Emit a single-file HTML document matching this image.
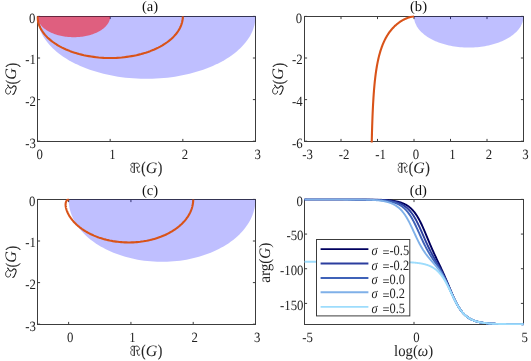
<!DOCTYPE html>
<html><head><meta charset="utf-8"><title>figure</title>
<style>
html,body{margin:0;padding:0;background:#fff;}
body{width:531px;height:361px;overflow:hidden;font-family:"Liberation Serif",serif;}
svg{display:block;will-change:transform;}
text{text-rendering:geometricPrecision;font-family:"Liberation Serif",serif;fill:#222;}
.tk{font-size:14.2px;}
.tt{font-size:14.6px;fill:#111;}
.lb{font-size:16px;}
.pr{font-size:16.3px;}
.gi{font-size:16px;font-style:italic;}
.lg{font-size:14.2px;}
</style></head><body>
<svg width="531" height="361" viewBox="0 0 531 361">
<rect width="531" height="361" fill="#fff"/>
<clipPath id="c2"><rect x="36.5" y="15.5" width="220" height="127"/></clipPath>
<rect x="37.5" y="16.5" width="218" height="125" fill="none" stroke="#3c3c3c" stroke-width="1"/>
<path d="M37.5,141.5 v-2.6 M37.5,16.5 v2.6" stroke="#3c3c3c" stroke-width="1" fill="none"/>
<text transform="translate(39.7,159.4) scale(0.9,1)" text-anchor="middle" class="tk">0</text>
<path d="M110.17,141.5 v-2.6 M110.17,16.5 v2.6" stroke="#3c3c3c" stroke-width="1" fill="none"/>
<text transform="translate(112.37,159.4) scale(0.9,1)" text-anchor="middle" class="tk">1</text>
<path d="M182.83,141.5 v-2.6 M182.83,16.5 v2.6" stroke="#3c3c3c" stroke-width="1" fill="none"/>
<text transform="translate(185.03,159.4) scale(0.9,1)" text-anchor="middle" class="tk">2</text>
<path d="M255.5,141.5 v-2.6 M255.5,16.5 v2.6" stroke="#3c3c3c" stroke-width="1" fill="none"/>
<text transform="translate(257.7,159.4) scale(0.9,1)" text-anchor="middle" class="tk">3</text>
<path d="M37.5,16.4 h2.6 M255.5,16.4 h-2.6" stroke="#3c3c3c" stroke-width="1" fill="none"/>
<text transform="translate(35.4,22.5) scale(0.9,1)" text-anchor="end" class="tk">0</text>
<path d="M37.5,58 h2.6 M255.5,58 h-2.6" stroke="#3c3c3c" stroke-width="1" fill="none"/>
<text transform="translate(36,64.4) scale(0.9,1)" text-anchor="end" class="tk">-1</text>
<path d="M37.5,99.6 h2.6 M255.5,99.6 h-2.6" stroke="#3c3c3c" stroke-width="1" fill="none"/>
<text transform="translate(36,106) scale(0.9,1)" text-anchor="end" class="tk">-2</text>
<path d="M37.5,141.2 h2.6 M255.5,141.2 h-2.6" stroke="#3c3c3c" stroke-width="1" fill="none"/>
<text transform="translate(36,147.6) scale(0.9,1)" text-anchor="end" class="tk">-3</text>
<g clip-path="url(#c2)">
<path d="M255.5,16.4 L255.43,18.6 L255.23,20.8 L254.89,23 L254.42,25.18 L253.81,27.36 L253.06,29.52 L252.19,31.66 L251.18,33.79 L250.05,35.89 L248.78,37.97 L247.39,40.02 L245.87,42.05 L244.22,44.04 L242.46,46 L240.57,47.92 L238.57,49.8 L236.46,51.64 L234.23,53.43 L231.89,55.18 L229.45,56.88 L226.9,58.53 L224.25,60.13 L221.51,61.68 L218.67,63.16 L215.74,64.59 L212.73,65.96 L209.63,67.27 L206.46,68.51 L203.21,69.69 L199.89,70.8 L196.5,71.85 L193.05,72.82 L189.54,73.73 L185.98,74.56 L182.37,75.32 L178.72,76.01 L175.02,76.63 L171.29,77.16 L167.53,77.63 L163.74,78.01 L159.93,78.32 L156.11,78.56 L152.27,78.71 L148.42,78.79 L144.58,78.79 L140.73,78.71 L136.89,78.56 L133.07,78.32 L129.26,78.01 L125.47,77.63 L121.71,77.16 L117.98,76.63 L114.28,76.01 L110.63,75.32 L107.02,74.56 L103.46,73.73 L99.95,72.82 L96.5,71.85 L93.11,70.8 L89.79,69.69 L86.54,68.51 L83.37,67.27 L80.27,65.96 L77.26,64.59 L74.33,63.16 L71.49,61.68 L68.75,60.13 L66.1,58.53 L63.55,56.88 L61.11,55.18 L58.77,53.43 L56.54,51.64 L54.43,49.8 L52.43,47.92 L50.54,46 L48.78,44.04 L47.13,42.05 L45.61,40.02 L44.22,37.97 L42.95,35.89 L41.82,33.79 L40.81,31.66 L39.94,29.52 L39.19,27.36 L38.58,25.18 L38.11,23 L37.77,20.8 L37.57,18.6 L37.5,16.4 Z" fill="rgba(0,0,255,0.25)"/>
<path d="M110.17,16.4 L110.14,17.13 L110.08,17.87 L109.96,18.6 L109.81,19.33 L109.6,20.05 L109.35,20.77 L109.06,21.49 L108.73,22.2 L108.35,22.9 L107.93,23.59 L107.46,24.27 L106.96,24.95 L106.41,25.61 L105.82,26.27 L105.19,26.91 L104.52,27.53 L103.82,28.15 L103.08,28.74 L102.3,29.33 L101.48,29.89 L100.63,30.44 L99.75,30.98 L98.84,31.49 L97.89,31.99 L96.91,32.46 L95.91,32.92 L94.88,33.36 L93.82,33.77 L92.74,34.16 L91.63,34.53 L90.5,34.88 L89.35,35.21 L88.18,35.51 L86.99,35.79 L85.79,36.04 L84.57,36.27 L83.34,36.48 L82.1,36.65 L80.84,36.81 L79.58,36.94 L78.31,37.04 L77.04,37.12 L75.76,37.17 L74.47,37.2 L73.19,37.2 L71.91,37.17 L70.63,37.12 L69.36,37.04 L68.09,36.94 L66.82,36.81 L65.57,36.65 L64.33,36.48 L63.09,36.27 L61.88,36.04 L60.67,35.79 L59.49,35.51 L58.32,35.21 L57.17,34.88 L56.04,34.53 L54.93,34.16 L53.85,33.77 L52.79,33.36 L51.76,32.92 L50.75,32.46 L49.78,31.99 L48.83,31.49 L47.92,30.98 L47.03,30.44 L46.18,29.89 L45.37,29.33 L44.59,28.74 L43.85,28.15 L43.14,27.53 L42.48,26.91 L41.85,26.27 L41.26,25.61 L40.71,24.95 L40.2,24.27 L39.74,23.59 L39.32,22.9 L38.94,22.2 L38.6,21.49 L38.31,20.77 L38.06,20.05 L37.86,19.33 L37.7,18.6 L37.59,17.87 L37.52,17.13 L37.5,16.4 Z" fill="rgba(255,0,0,0.5)"/>
<path d="M182.83,16.4 L182.79,17.87 L182.65,19.33 L182.43,20.8 L182.11,22.25 L181.7,23.7 L181.21,25.14 L180.63,26.57 L179.96,27.99 L179.2,29.39 L178.35,30.78 L177.42,32.15 L176.41,33.5 L175.32,34.83 L174.14,36.13 L172.88,37.41 L171.55,38.67 L170.14,39.89 L168.65,41.09 L167.09,42.26 L165.46,43.39 L163.77,44.49 L162,45.55 L160.17,46.58 L158.28,47.58 L156.33,48.53 L154.32,49.44 L152.25,50.31 L150.14,51.14 L147.97,51.93 L145.76,52.67 L143.5,53.37 L141.2,54.02 L138.86,54.62 L136.49,55.18 L134.08,55.68 L131.64,56.14 L129.18,56.55 L126.69,56.91 L124.19,57.22 L121.66,57.48 L119.12,57.68 L116.57,57.84 L114.01,57.94 L111.45,57.99 L108.88,57.99 L106.32,57.94 L103.76,57.84 L101.21,57.68 L98.67,57.48 L96.15,57.22 L93.64,56.91 L91.15,56.55 L88.69,56.14 L86.25,55.68 L83.85,55.18 L81.47,54.62 L79.13,54.02 L76.83,53.37 L74.58,52.67 L72.36,51.93 L70.2,51.14 L68.08,50.31 L66.01,49.44 L64.01,48.53 L62.05,47.58 L60.16,46.58 L58.33,45.55 L56.57,44.49 L54.87,43.39 L53.24,42.26 L51.68,41.09 L50.2,39.89 L48.78,38.67 L47.45,37.41 L46.19,36.13 L45.02,34.83 L43.92,33.5 L42.91,32.15 L41.98,30.78 L41.14,29.39 L40.38,27.99 L39.71,26.57 L39.12,25.14 L38.63,23.7 L38.22,22.25 L37.91,20.8 L37.68,19.33 L37.55,17.87 L37.5,16.4" fill="none" stroke="#d95319" stroke-width="2.1" stroke-linecap="butt" stroke-linejoin="round"/>
</g>
<text x="150" y="11.3" text-anchor="middle" class="tt">(a)</text>
<g transform="translate(146.5,172.8)"><path d="M3.9,-10.1 L4.0,-0.5" transform="translate(-15.9,0) scale(0.93,0.94)" fill="none" stroke="#222" stroke-width="1.25" stroke-linecap="round" stroke-linejoin="round"/><path d="M1.9,-10.2 C0.9,-10 0.3,-9.6 0.3,-8.9 C0.3,-8 0.4,-7.6 0.55,-7.2 C0.9,-6.6 1.6,-6.4 2.2,-6.4" transform="translate(-15.9,0) scale(0.93,0.94)" fill="none" stroke="#222" stroke-width="0.75" stroke-linecap="round" stroke-linejoin="round"/><path d="M1.9,-5.8 C0.8,-5.4 0.2,-5 0.17,-4.4 C0.1,-3.4 0.1,-2.6 0.3,-1.9 C0.6,-1.1 1.1,-0.7 1.7,-0.55 C2.3,-0.4 2.8,-0.3 3.4,-0.3" transform="translate(-15.9,0) scale(0.93,0.94)" fill="none" stroke="#222" stroke-width="0.75" stroke-linecap="round" stroke-linejoin="round"/><path d="M1.9,-10.2 C2.6,-10.4 3.3,-10.3 3.9,-10.1" transform="translate(-15.9,0) scale(0.93,0.94)" fill="none" stroke="#222" stroke-width="0.75" stroke-linecap="round" stroke-linejoin="round"/><path d="M4.5,-9.6 C5.2,-10.2 6,-10.5 6.9,-10.4 C7.8,-10.2 8.6,-9.6 9.1,-8.9 C9.5,-8.3 9.8,-7.7 9.7,-7.2 C9.4,-6.5 8.9,-6.2 8.3,-6 C7.7,-5.8 7.1,-5.7 6.6,-5.65" transform="translate(-15.9,0) scale(0.93,0.94)" fill="none" stroke="#222" stroke-width="0.9" stroke-linecap="round" stroke-linejoin="round"/><path d="M6.9,-6.1 C7.2,-4.5 7.3,-2.8 7.75,-1.4 C8,-0.7 8.4,-0.4 8.9,-0.45 C9.3,-0.5 9.7,-0.7 10,-1" transform="translate(-15.9,0) scale(0.93,0.94)" fill="none" stroke="#222" stroke-width="1.0" stroke-linecap="round" stroke-linejoin="round"/><text transform="translate(-5.3,0.4) scale(0.78,1)" class="pr" stroke="#222" stroke-width="0.25">(</text><text x="-0.8" y="-0.1" class="gi">G</text><text transform="translate(11.6,0.4) scale(0.78,1)" class="pr" stroke="#222" stroke-width="0.25">)</text></g>
<g transform="translate(16.2,79) rotate(-90)"><path d="M9.7,-8.65 C9.2,-7.9 8.9,-7.8 8.35,-7.55 C7.2,-6.9 6.4,-5.9 6.7,-4.75 C7.1,-3.6 9,-3.2 8.9,-2 C8.8,-0.7 7.8,-0.05 6.7,-0.05 C5.5,-0.05 4.9,-0.6 3.9,-0.9 C2.4,-1.3 0.9,-2 0.3,-3.35" transform="translate(-15.75,0) scale(1,1)" fill="none" stroke="#222" stroke-width="1.1" stroke-linecap="round" stroke-linejoin="round"/><path d="M7.24,-8.65 C6.4,-9.8 5.2,-10.6 3.9,-10.6 C2.4,-10.6 1.2,-10 0.9,-9.2 C0.5,-8 0.8,-6.8 1.7,-6.15 C2.3,-5.7 3,-5.55 3.6,-5.6" transform="translate(-15.75,0) scale(1,1)" fill="none" stroke="#222" stroke-width="0.9" stroke-linecap="round" stroke-linejoin="round"/><text transform="translate(-5.15,0.4) scale(0.78,1)" class="pr" stroke="#222" stroke-width="0.25">(</text><text x="-0.65" y="-0.1" class="gi">G</text><text transform="translate(11.75,0.4) scale(0.78,1)" class="pr" stroke="#222" stroke-width="0.25">)</text></g>
<clipPath id="c28"><rect x="303.5" y="15.5" width="221" height="127"/></clipPath>
<rect x="304.5" y="16.5" width="219" height="125" fill="none" stroke="#3c3c3c" stroke-width="1"/>
<path d="M304.5,141.5 v-2.6 M304.5,16.5 v2.6" stroke="#3c3c3c" stroke-width="1" fill="none"/>
<text transform="translate(307.5,159.4) scale(0.9,1)" text-anchor="middle" class="tk">-3</text>
<path d="M341,141.5 v-2.6 M341,16.5 v2.6" stroke="#3c3c3c" stroke-width="1" fill="none"/>
<text transform="translate(344,159.4) scale(0.9,1)" text-anchor="middle" class="tk">-2</text>
<path d="M377.5,141.5 v-2.6 M377.5,16.5 v2.6" stroke="#3c3c3c" stroke-width="1" fill="none"/>
<text transform="translate(380.5,159.4) scale(0.9,1)" text-anchor="middle" class="tk">-1</text>
<path d="M414,141.5 v-2.6 M414,16.5 v2.6" stroke="#3c3c3c" stroke-width="1" fill="none"/>
<text transform="translate(416,159.4) scale(0.9,1)" text-anchor="middle" class="tk">0</text>
<path d="M450.5,141.5 v-2.6 M450.5,16.5 v2.6" stroke="#3c3c3c" stroke-width="1" fill="none"/>
<text transform="translate(452.5,159.4) scale(0.9,1)" text-anchor="middle" class="tk">1</text>
<path d="M487,141.5 v-2.6 M487,16.5 v2.6" stroke="#3c3c3c" stroke-width="1" fill="none"/>
<text transform="translate(489,159.4) scale(0.9,1)" text-anchor="middle" class="tk">2</text>
<path d="M523.5,141.5 v-2.6 M523.5,16.5 v2.6" stroke="#3c3c3c" stroke-width="1" fill="none"/>
<text transform="translate(525.5,159.4) scale(0.9,1)" text-anchor="middle" class="tk">3</text>
<path d="M304.5,16.4 h2.6 M523.5,16.4 h-2.6" stroke="#3c3c3c" stroke-width="1" fill="none"/>
<text transform="translate(302.1,22.5) scale(0.9,1)" text-anchor="end" class="tk">0</text>
<path d="M304.5,58 h2.6 M523.5,58 h-2.6" stroke="#3c3c3c" stroke-width="1" fill="none"/>
<text transform="translate(302.7,64.4) scale(0.9,1)" text-anchor="end" class="tk">-2</text>
<path d="M304.5,99.6 h2.6 M523.5,99.6 h-2.6" stroke="#3c3c3c" stroke-width="1" fill="none"/>
<text transform="translate(302.7,106) scale(0.9,1)" text-anchor="end" class="tk">-4</text>
<path d="M304.5,141.2 h2.6 M523.5,141.2 h-2.6" stroke="#3c3c3c" stroke-width="1" fill="none"/>
<text transform="translate(302.7,147.6) scale(0.9,1)" text-anchor="end" class="tk">-6</text>
<g clip-path="url(#c28)">
<path d="M523.5,16.4 L523.47,17.5 L523.36,18.6 L523.19,19.7 L522.96,20.79 L522.65,21.88 L522.28,22.96 L521.84,24.03 L521.33,25.09 L520.76,26.15 L520.12,27.19 L519.42,28.21 L518.66,29.22 L517.84,30.22 L516.95,31.2 L516,32.16 L515,33.1 L513.93,34.02 L512.82,34.92 L511.64,35.79 L510.41,36.64 L509.13,37.47 L507.8,38.27 L506.43,39.04 L505,39.78 L503.53,40.5 L502.02,41.18 L500.46,41.83 L498.87,42.46 L497.23,43.05 L495.57,43.6 L493.86,44.12 L492.13,44.61 L490.37,45.06 L488.58,45.48 L486.77,45.86 L484.93,46.21 L483.08,46.51 L481.2,46.78 L479.31,47.01 L477.41,47.21 L475.5,47.36 L473.58,47.48 L471.65,47.56 L469.72,47.6 L467.78,47.6 L465.85,47.56 L463.92,47.48 L462,47.36 L460.09,47.21 L458.19,47.01 L456.3,46.78 L454.42,46.51 L452.57,46.21 L450.73,45.86 L448.92,45.48 L447.13,45.06 L445.37,44.61 L443.64,44.12 L441.93,43.6 L440.27,43.05 L438.63,42.46 L437.04,41.83 L435.48,41.18 L433.97,40.5 L432.5,39.78 L431.07,39.04 L429.7,38.27 L428.37,37.47 L427.09,36.64 L425.86,35.79 L424.68,34.92 L423.57,34.02 L422.5,33.1 L421.5,32.16 L420.55,31.2 L419.66,30.22 L418.84,29.22 L418.08,28.21 L417.38,27.19 L416.74,26.15 L416.17,25.09 L415.66,24.03 L415.22,22.96 L414.85,21.88 L414.54,20.79 L414.31,19.7 L414.14,18.6 L414.03,17.5 L414,16.4 Z" fill="rgba(0,0,255,0.25)"/>
<path d="M370.37,410.42 L370.38,400.91 L370.39,391.62 L370.4,382.56 L370.41,373.71 L370.42,365.07 L370.43,356.64 L370.44,348.4 L370.46,340.36 L370.47,332.51 L370.48,324.85 L370.5,317.37 L370.51,310.06 L370.53,302.93 L370.54,295.96 L370.56,289.16 L370.58,282.52 L370.59,276.04 L370.61,269.71 L370.63,263.53 L370.65,257.49 L370.68,251.6 L370.7,245.84 L370.73,240.22 L370.75,234.73 L370.78,229.37 L370.81,224.13 L370.84,219.02 L370.87,214.02 L370.9,209.15 L370.93,204.38 L370.97,199.73 L371.01,195.18 L371.05,190.74 L371.09,186.4 L371.13,182.16 L371.18,178.02 L371.22,173.98 L371.27,170.03 L371.33,166.17 L371.38,162.39 L371.44,158.71 L371.5,155.11 L371.56,151.59 L371.62,148.15 L371.69,144.78 L371.76,141.5 L371.84,138.29 L371.92,135.15 L372,132.08 L372.08,129.08 L372.17,126.14 L372.27,123.28 L372.36,120.47 L372.47,117.73 L372.57,115.05 L372.68,112.43 L372.8,109.87 L372.92,107.36 L373.05,104.91 L373.18,102.51 L373.32,100.17 L373.46,97.88 L373.61,95.63 L373.76,93.44 L373.93,91.29 L374.09,89.19 L374.27,87.13 L374.45,85.12 L374.64,83.15 L374.84,81.23 L375.05,79.35 L375.26,77.5 L375.48,75.7 L375.71,73.93 L375.95,72.21 L376.19,70.52 L376.45,68.87 L376.71,67.25 L376.98,65.67 L377.27,64.12 L377.56,62.61 L377.86,61.13 L378.17,59.68 L378.49,58.27 L378.82,56.88 L379.16,55.53 L379.52,54.21 L379.88,52.92 L380.25,51.66 L380.63,50.43 L381.02,49.22 L381.42,48.05 L381.83,46.9 L382.24,45.78 L382.67,44.69 L383.11,43.63 L383.55,42.6 L384.01,41.59 L384.47,40.61 L384.94,39.65 L385.42,38.72 L385.9,37.82 L386.4,36.94 L386.89,36.08 L387.4,35.26 L387.91,34.45 L388.42,33.67 L388.94,32.92 L389.46,32.19 L389.98,31.48 L390.51,30.8 L391.04,30.13 L391.57,29.5 L392.1,28.88 L392.63,28.29 L393.16,27.71 L393.69,27.16 L394.22,26.63 L394.74,26.12 L395.26,25.63 L395.78,25.16 L396.29,24.71 L396.8,24.28 L397.31,23.87 L397.8,23.47 L398.3,23.09 L398.78,22.73 L399.26,22.38 L399.73,22.05 L400.19,21.74 L400.65,21.44 L401.09,21.16 L401.53,20.88 L401.96,20.63 L402.37,20.38 L402.78,20.15 L403.18,19.93 L403.57,19.72 L403.95,19.52 L404.32,19.34 L404.68,19.16 L405.04,18.99 L405.38,18.83 L405.71,18.68 L406.03,18.54 L406.34,18.41 L406.64,18.28 L406.93,18.17 L407.22,18.06 L407.49,17.95 L407.75,17.85 L408.01,17.76 L408.25,17.67 L408.49,17.59 L408.72,17.51 L408.94,17.44 L409.15,17.37 L409.36,17.31 L409.56,17.25 L409.75,17.19 L409.93,17.14 L410.11,17.09 L410.27,17.05 L410.44,17 L410.59,16.96 L410.74,16.93 L410.88,16.89 L411.02,16.86 L411.15,16.83 L411.28,16.8 L411.4,16.77 L411.52,16.75 L411.63,16.72 L411.73,16.7 L411.84,16.68 L411.93,16.66 L412.03,16.64 L412.12,16.63 L412.2,16.61 L412.28,16.6 L412.36,16.58 L412.44,16.57 L412.51,16.56 L412.58,16.55 L412.64,16.54 L412.7,16.53 L412.76,16.52 L412.82,16.51 L412.87,16.5 L412.93,16.5 L412.98,16.49 L413.02,16.48 L413.07,16.48 L413.11,16.47 L413.15,16.47 L413.19,16.46 L413.23,16.46 L413.27,16.45 L413.3,16.45 L413.33,16.45 L413.36,16.44 L413.39,16.44 L413.42,16.44 L413.45,16.44 L413.47,16.43 L413.5,16.43 L413.52,16.43 L413.55,16.43 L413.57,16.42 L413.59,16.42 L413.61,16.42 L413.62,16.42 L413.64,16.42 L413.66,16.42 L413.67,16.42 L413.69,16.41 L413.7,16.41 L413.72,16.41 L413.73,16.41 L413.74,16.41 L413.76,16.41 L413.77,16.41 L413.78,16.41 L413.79,16.41 L413.8,16.41 L413.81,16.41 L413.82,16.41 L413.83,16.41 L413.83,16.41 L413.84,16.41 L413.85,16.41 L413.86,16.4 L413.86,16.4 L413.87,16.4 L413.88,16.4 L413.88,16.4 L413.89,16.4 L413.89,16.4 L413.9,16.4 L413.9,16.4 L413.91,16.4 L413.91,16.4 L413.92,16.4 L413.92,16.4 L413.92,16.4 L413.93,16.4 L413.93,16.4 L413.93,16.4 L413.94,16.4 L413.94,16.4 L413.94,16.4 L413.95,16.4 L413.95,16.4 L413.95,16.4 L413.95,16.4 L413.96,16.4 L413.96,16.4 L413.96,16.4 L413.96,16.4 L413.96,16.4 L413.96,16.4 L413.97,16.4 L413.97,16.4 L413.97,16.4 L413.97,16.4 L413.97,16.4 L413.97,16.4 L413.97,16.4 L413.98,16.4 L413.98,16.4 L413.98,16.4 L413.98,16.4 L413.98,16.4 L413.98,16.4 L413.98,16.4 L413.98,16.4 L413.98,16.4 L413.98,16.4 L413.99,16.4 L413.99,16.4 L413.99,16.4 L413.99,16.4 L413.99,16.4 L413.99,16.4 L413.99,16.4 L413.99,16.4 L413.99,16.4 L413.99,16.4 L413.99,16.4 L413.99,16.4 L413.99,16.4 L413.99,16.4 L413.99,16.4 L413.99,16.4 L413.99,16.4 L413.99,16.4 L413.99,16.4 L413.99,16.4 L413.99,16.4 L413.99,16.4 L413.99,16.4 L414,16.4 L414,16.4 L414,16.4 L414,16.4 L414,16.4 L414,16.4 L414,16.4 L414,16.4 L414,16.4 L414,16.4 L414,16.4 L414,16.4 L414,16.4 L414,16.4 L414,16.4 L414,16.4 L414,16.4 L414,16.4 L414,16.4 L414,16.4 L414,16.4 L414,16.4 L414,16.4 L414,16.4 L414,16.4 L414,16.4 L414,16.4 L414,16.4 L414,16.4 L414,16.4 L414,16.4 L414,16.4 L414,16.4 L414,16.4 L414,16.4 L414,16.4 L414,16.4 L414,16.4 L414,16.4 L414,16.4 L414,16.4 L414,16.4 L414,16.4 L414,16.4 L414,16.4 L414,16.4 L414,16.4 L414,16.4 L414,16.4 L414,16.4 L414,16.4 L414,16.4 L414,16.4 L414,16.4 L414,16.4 L414,16.4 L414,16.4 L414,16.4 L414,16.4 L414,16.4 L414,16.4 L414,16.4 L414,16.4 L414,16.4 L414,16.4 L414,16.4 L414,16.4 L414,16.4 L414,16.4 L414,16.4 L414,16.4 L414,16.4 L414,16.4 L414,16.4 L414,16.4 L414,16.4 L414,16.4 L414,16.4 L414,16.4 L414,16.4 L414,16.4 L414,16.4 L414,16.4 L414,16.4 L414,16.4 L414,16.4 L414,16.4 L414,16.4 L414,16.4 L414,16.4 L414,16.4 L414,16.4 L414,16.4 L414,16.4 L414,16.4 L414,16.4 L414,16.4 L414,16.4" fill="none" stroke="#d95319" stroke-width="2.1" stroke-linejoin="round"/>
</g>
<text x="418.5" y="11.1" text-anchor="middle" class="tt">(b)</text>
<g transform="translate(414,172.8)"><path d="M3.9,-10.1 L4.0,-0.5" transform="translate(-15.9,0) scale(0.93,0.94)" fill="none" stroke="#222" stroke-width="1.25" stroke-linecap="round" stroke-linejoin="round"/><path d="M1.9,-10.2 C0.9,-10 0.3,-9.6 0.3,-8.9 C0.3,-8 0.4,-7.6 0.55,-7.2 C0.9,-6.6 1.6,-6.4 2.2,-6.4" transform="translate(-15.9,0) scale(0.93,0.94)" fill="none" stroke="#222" stroke-width="0.75" stroke-linecap="round" stroke-linejoin="round"/><path d="M1.9,-5.8 C0.8,-5.4 0.2,-5 0.17,-4.4 C0.1,-3.4 0.1,-2.6 0.3,-1.9 C0.6,-1.1 1.1,-0.7 1.7,-0.55 C2.3,-0.4 2.8,-0.3 3.4,-0.3" transform="translate(-15.9,0) scale(0.93,0.94)" fill="none" stroke="#222" stroke-width="0.75" stroke-linecap="round" stroke-linejoin="round"/><path d="M1.9,-10.2 C2.6,-10.4 3.3,-10.3 3.9,-10.1" transform="translate(-15.9,0) scale(0.93,0.94)" fill="none" stroke="#222" stroke-width="0.75" stroke-linecap="round" stroke-linejoin="round"/><path d="M4.5,-9.6 C5.2,-10.2 6,-10.5 6.9,-10.4 C7.8,-10.2 8.6,-9.6 9.1,-8.9 C9.5,-8.3 9.8,-7.7 9.7,-7.2 C9.4,-6.5 8.9,-6.2 8.3,-6 C7.7,-5.8 7.1,-5.7 6.6,-5.65" transform="translate(-15.9,0) scale(0.93,0.94)" fill="none" stroke="#222" stroke-width="0.9" stroke-linecap="round" stroke-linejoin="round"/><path d="M6.9,-6.1 C7.2,-4.5 7.3,-2.8 7.75,-1.4 C8,-0.7 8.4,-0.4 8.9,-0.45 C9.3,-0.5 9.7,-0.7 10,-1" transform="translate(-15.9,0) scale(0.93,0.94)" fill="none" stroke="#222" stroke-width="1.0" stroke-linecap="round" stroke-linejoin="round"/><text transform="translate(-5.3,0.4) scale(0.78,1)" class="pr" stroke="#222" stroke-width="0.25">(</text><text x="-0.8" y="-0.1" class="gi">G</text><text transform="translate(11.6,0.4) scale(0.78,1)" class="pr" stroke="#222" stroke-width="0.25">)</text></g>
<g transform="translate(283.2,79) rotate(-90)"><path d="M9.7,-8.65 C9.2,-7.9 8.9,-7.8 8.35,-7.55 C7.2,-6.9 6.4,-5.9 6.7,-4.75 C7.1,-3.6 9,-3.2 8.9,-2 C8.8,-0.7 7.8,-0.05 6.7,-0.05 C5.5,-0.05 4.9,-0.6 3.9,-0.9 C2.4,-1.3 0.9,-2 0.3,-3.35" transform="translate(-15.75,0) scale(1,1)" fill="none" stroke="#222" stroke-width="1.1" stroke-linecap="round" stroke-linejoin="round"/><path d="M7.24,-8.65 C6.4,-9.8 5.2,-10.6 3.9,-10.6 C2.4,-10.6 1.2,-10 0.9,-9.2 C0.5,-8 0.8,-6.8 1.7,-6.15 C2.3,-5.7 3,-5.55 3.6,-5.6" transform="translate(-15.75,0) scale(1,1)" fill="none" stroke="#222" stroke-width="0.9" stroke-linecap="round" stroke-linejoin="round"/><text transform="translate(-5.15,0.4) scale(0.78,1)" class="pr" stroke="#222" stroke-width="0.25">(</text><text x="-0.65" y="-0.1" class="gi">G</text><text transform="translate(11.75,0.4) scale(0.78,1)" class="pr" stroke="#222" stroke-width="0.25">)</text></g>
<clipPath id="c59"><rect x="36.5" y="198.5" width="220" height="127"/></clipPath>
<rect x="37.5" y="199.5" width="218" height="125" fill="none" stroke="#3c3c3c" stroke-width="1"/>
<path d="M68.64,324.5 v-2.6 M68.64,199.5 v2.6" stroke="#3c3c3c" stroke-width="1" fill="none"/>
<text transform="translate(70.24,342.4) scale(0.9,1)" text-anchor="middle" class="tk">0</text>
<path d="M130.93,324.5 v-2.6 M130.93,199.5 v2.6" stroke="#3c3c3c" stroke-width="1" fill="none"/>
<text transform="translate(132.53,342.4) scale(0.9,1)" text-anchor="middle" class="tk">1</text>
<path d="M193.21,324.5 v-2.6 M193.21,199.5 v2.6" stroke="#3c3c3c" stroke-width="1" fill="none"/>
<text transform="translate(194.81,342.4) scale(0.9,1)" text-anchor="middle" class="tk">2</text>
<path d="M255.5,324.5 v-2.6 M255.5,199.5 v2.6" stroke="#3c3c3c" stroke-width="1" fill="none"/>
<text transform="translate(257.1,342.4) scale(0.9,1)" text-anchor="middle" class="tk">3</text>
<path d="M37.5,199.4 h2.6 M255.5,199.4 h-2.6" stroke="#3c3c3c" stroke-width="1" fill="none"/>
<text transform="translate(35.4,205.5) scale(0.9,1)" text-anchor="end" class="tk">0</text>
<path d="M37.5,241 h2.6 M255.5,241 h-2.6" stroke="#3c3c3c" stroke-width="1" fill="none"/>
<text transform="translate(36,247.4) scale(0.9,1)" text-anchor="end" class="tk">-1</text>
<path d="M37.5,282.6 h2.6 M255.5,282.6 h-2.6" stroke="#3c3c3c" stroke-width="1" fill="none"/>
<text transform="translate(36,289) scale(0.9,1)" text-anchor="end" class="tk">-2</text>
<path d="M37.5,324.2 h2.6 M255.5,324.2 h-2.6" stroke="#3c3c3c" stroke-width="1" fill="none"/>
<text transform="translate(36,330.6) scale(0.9,1)" text-anchor="end" class="tk">-3</text>
<g clip-path="url(#c59)">
<path d="M255.5,199.4 L255.44,201.6 L255.27,203.8 L254.98,206 L254.57,208.18 L254.05,210.36 L253.41,212.52 L252.66,214.66 L251.8,216.79 L250.82,218.89 L249.74,220.97 L248.55,223.02 L247.24,225.05 L245.83,227.04 L244.32,229 L242.71,230.92 L240.99,232.8 L239.18,234.64 L237.27,236.43 L235.26,238.18 L233.17,239.88 L230.99,241.53 L228.72,243.13 L226.36,244.68 L223.93,246.16 L221.42,247.59 L218.84,248.96 L216.18,250.27 L213.46,251.51 L210.68,252.69 L207.83,253.8 L204.93,254.85 L201.97,255.82 L198.96,256.73 L195.91,257.56 L192.82,258.32 L189.69,259.01 L186.52,259.63 L183.32,260.16 L180.1,260.63 L176.85,261.01 L173.58,261.32 L170.31,261.56 L167.02,261.71 L163.72,261.79 L160.42,261.79 L157.13,261.71 L153.84,261.56 L150.56,261.32 L147.29,261.01 L144.05,260.63 L140.82,260.16 L137.62,259.63 L134.46,259.01 L131.33,258.32 L128.23,257.56 L125.18,256.73 L122.17,255.82 L119.22,254.85 L116.31,253.8 L113.47,252.69 L110.68,251.51 L107.96,250.27 L105.3,248.96 L102.72,247.59 L100.21,246.16 L97.78,244.68 L95.43,243.13 L93.16,241.53 L90.97,239.88 L88.88,238.18 L86.88,236.43 L84.97,234.64 L83.15,232.8 L81.44,230.92 L79.82,229 L78.31,227.04 L76.9,225.05 L75.6,223.02 L74.4,220.97 L73.32,218.89 L72.34,216.79 L71.48,214.66 L70.73,212.52 L70.09,210.36 L69.57,208.18 L69.17,206 L68.88,203.8 L68.7,201.6 L68.64,199.4 Z" fill="rgba(0,0,255,0.25)"/>
<path d="M193.21,199.4 L193.21,199.49 L193.21,199.49 L193.21,199.49 L193.21,199.49 L193.21,199.5 L193.21,199.5 L193.21,199.5 L193.21,199.5 L193.21,199.51 L193.21,199.51 L193.21,199.51 L193.21,199.52 L193.21,199.52 L193.21,199.52 L193.21,199.53 L193.21,199.53 L193.21,199.53 L193.21,199.54 L193.21,199.54 L193.21,199.54 L193.21,199.55 L193.21,199.55 L193.21,199.56 L193.21,199.56 L193.21,199.56 L193.21,199.57 L193.21,199.57 L193.21,199.58 L193.21,199.58 L193.21,199.59 L193.21,199.59 L193.21,199.6 L193.21,199.6 L193.21,199.61 L193.21,199.62 L193.21,199.62 L193.21,199.63 L193.21,199.63 L193.21,199.64 L193.21,199.65 L193.21,199.65 L193.21,199.66 L193.21,199.67 L193.21,199.67 L193.21,199.68 L193.21,199.69 L193.21,199.7 L193.21,199.71 L193.21,199.71 L193.21,199.72 L193.21,199.73 L193.21,199.74 L193.21,199.75 L193.21,199.76 L193.21,199.77 L193.21,199.78 L193.21,199.79 L193.21,199.8 L193.21,199.81 L193.21,199.82 L193.21,199.83 L193.21,199.84 L193.21,199.86 L193.21,199.87 L193.21,199.88 L193.21,199.9 L193.21,199.91 L193.21,199.92 L193.21,199.94 L193.21,199.95 L193.21,199.97 L193.21,199.98 L193.21,200 L193.21,200.01 L193.21,200.03 L193.21,200.05 L193.21,200.07 L193.21,200.08 L193.21,200.1 L193.21,200.12 L193.2,200.14 L193.2,200.16 L193.2,200.18 L193.2,200.2 L193.2,200.23 L193.2,200.25 L193.2,200.27 L193.2,200.3 L193.2,200.32 L193.2,200.35 L193.2,200.37 L193.2,200.4 L193.2,200.42 L193.2,200.45 L193.19,200.48 L193.19,200.51 L193.19,200.54 L193.19,200.57 L193.19,200.6 L193.19,200.64 L193.19,200.67 L193.18,200.71 L193.18,200.74 L193.18,200.78 L193.18,200.81 L193.18,200.85 L193.18,200.89 L193.17,200.93 L193.17,200.98 L193.17,201.02 L193.17,201.06 L193.16,201.11 L193.16,201.15 L193.16,201.2 L193.15,201.25 L193.15,201.3 L193.15,201.35 L193.14,201.41 L193.14,201.46 L193.14,201.52 L193.13,201.58 L193.13,201.63 L193.12,201.7 L193.12,201.76 L193.11,201.82 L193.11,201.89 L193.1,201.96 L193.09,202.03 L193.09,202.1 L193.08,202.17 L193.07,202.25 L193.07,202.32 L193.06,202.4 L193.05,202.48 L193.04,202.57 L193.03,202.65 L193.02,202.74 L193.01,202.83 L193,202.93 L192.99,203.02 L192.97,203.12 L192.96,203.22 L192.95,203.33 L192.93,203.43 L192.92,203.54 L192.9,203.66 L192.88,203.77 L192.86,203.89 L192.84,204.01 L192.82,204.14 L192.8,204.26 L192.78,204.4 L192.75,204.53 L192.73,204.67 L192.7,204.81 L192.67,204.96 L192.64,205.11 L192.61,205.26 L192.58,205.42 L192.55,205.58 L192.51,205.75 L192.47,205.92 L192.43,206.1 L192.39,206.28 L192.34,206.46 L192.29,206.65 L192.24,206.85 L192.19,207.05 L192.13,207.25 L192.07,207.46 L192.01,207.68 L191.94,207.9 L191.88,208.13 L191.8,208.36 L191.72,208.6 L191.64,208.85 L191.56,209.1 L191.47,209.35 L191.37,209.62 L191.27,209.89 L191.17,210.17 L191.05,210.45 L190.94,210.74 L190.81,211.04 L190.68,211.34 L190.55,211.66 L190.4,211.98 L190.25,212.3 L190.09,212.64 L189.92,212.98 L189.75,213.33 L189.56,213.69 L189.36,214.06 L189.16,214.43 L188.94,214.82 L188.71,215.21 L188.47,215.61 L188.22,216.02 L187.95,216.43 L187.68,216.86 L187.38,217.29 L187.08,217.73 L186.75,218.18 L186.42,218.64 L186.06,219.11 L185.69,219.59 L185.3,220.07 L184.89,220.56 L184.46,221.06 L184.01,221.57 L183.54,222.08 L183.05,222.61 L182.53,223.14 L181.99,223.67 L181.43,224.22 L180.84,224.76 L180.22,225.32 L179.58,225.88 L178.91,226.44 L178.21,227.01 L177.48,227.58 L176.72,228.16 L175.93,228.73 L175.11,229.31 L174.26,229.89 L173.37,230.47 L172.45,231.05 L171.49,231.63 L170.5,232.2 L169.48,232.77 L168.42,233.33 L167.32,233.89 L166.19,234.44 L165.02,234.99 L163.82,235.52 L162.58,236.04 L161.3,236.56 L159.99,237.05 L158.64,237.54 L157.26,238.01 L155.85,238.46 L154.41,238.89 L152.93,239.3 L151.42,239.7 L149.89,240.07 L148.32,240.41 L146.73,240.74 L145.12,241.03 L143.49,241.31 L141.83,241.55 L140.15,241.77 L138.46,241.95 L136.76,242.11 L135.04,242.24 L133.32,242.33 L131.59,242.4 L129.85,242.44 L128.11,242.44 L126.37,242.41 L124.64,242.35 L122.91,242.26 L121.19,242.14 L119.48,241.99 L117.79,241.81 L116.1,241.6 L114.44,241.36 L112.8,241.1 L111.17,240.8 L109.57,240.49 L108,240.14 L106.45,239.78 L104.93,239.39 L103.44,238.98 L101.99,238.54 L100.56,238.09 L99.17,237.63 L97.81,237.14 L96.48,236.64 L95.19,236.13 L93.94,235.61 L92.72,235.07 L91.54,234.52 L90.39,233.97 L89.28,233.4 L88.21,232.83 L87.17,232.26 L86.16,231.68 L85.19,231.09 L84.26,230.51 L83.36,229.92 L82.49,229.33 L81.66,228.75 L80.86,228.16 L80.09,227.58 L79.35,226.99 L78.64,226.41 L77.96,225.84 L77.31,225.27 L76.68,224.7 L76.09,224.14 L75.52,223.59 L74.97,223.04 L74.45,222.49 L73.95,221.96 L73.47,221.43 L73.02,220.91 L72.58,220.39 L72.17,219.88 L71.78,219.38 L71.4,218.89 L71.04,218.41 L70.7,217.93 L70.38,217.47 L70.07,217.01 L69.78,216.56 L69.5,216.12 L69.24,215.68 L68.99,215.25 L68.75,214.84 L68.53,214.43 L68.32,214.03 L68.11,213.63 L67.92,213.25 L67.74,212.87 L67.57,212.5 L67.41,212.13 L67.26,211.78 L67.12,211.43 L66.98,211.09 L66.86,210.76 L66.74,210.43 L66.63,210.11 L66.52,209.8 L66.43,209.49 L66.33,209.19 L66.25,208.9 L66.17,208.62 L66.1,208.34 L66.03,208.06 L65.97,207.79 L65.91,207.53 L65.86,207.28 L65.82,207.03 L65.77,206.78 L65.74,206.54 L65.7,206.31 L65.68,206.08 L65.65,205.86 L65.63,205.64 L65.61,205.42 L65.6,205.22 L65.59,205.01 L65.59,204.81 L65.58,204.62 L65.59,204.43 L65.59,204.25 L65.6,204.07 L65.61,203.89 L65.62,203.72 L65.64,203.55 L65.66,203.39 L65.68,203.23 L65.7,203.08 L65.73,202.93 L65.76,202.78 L65.79,202.64 L65.83,202.5 L65.86,202.37 L65.9,202.24 L65.94,202.11 L65.98,201.99 L66.02,201.87 L66.07,201.76 L66.12,201.65 L66.16,201.54 L66.21,201.43 L66.26,201.33 L66.31,201.24 L66.36,201.15 L66.42,201.06 L66.47,200.97 L66.52,200.89 L66.58,200.81 L66.63,200.73 L66.69,200.66 L66.74,200.59 L66.8,200.52 L66.85,200.46 L66.91,200.4 L66.96,200.34 L67.01,200.29 L67.07,200.23 L67.12,200.18 L67.17,200.14 L67.22,200.09 L67.27,200.05 L67.32,200.01 L67.37,199.97 L67.41,199.93 L67.46,199.9 L67.51,199.87 L67.55,199.84 L67.59,199.81 L67.64,199.78 L67.68,199.76 L67.72,199.73 L67.75,199.71 L67.79,199.69 L67.83,199.67 L67.86,199.65 L67.9,199.63 L67.93,199.62 L67.96,199.6 L67.99,199.59 L68.02,199.58 L68.05,199.56 L68.07,199.55 L68.1,199.54 L68.13,199.53 L68.15,199.52 L68.17,199.51 L68.19,199.5 L68.22,199.5 L68.24,199.49 L68.26,199.48 L68.27,199.48 L68.29,199.47 L68.31,199.47 L68.32,199.46 L68.34,199.46 L68.36,199.45 L68.37,199.45 L68.38,199.44 L68.4,199.44 L68.41,199.44 L68.42,199.44 L68.43,199.43 L68.44,199.43 L68.45,199.43 L68.46,199.43 L68.47,199.42 L68.48,199.42 L68.49,199.42 L68.49,199.42 L68.5,199.42 L68.51,199.42 L68.52,199.41 L68.52,199.41 L68.53,199.41 L68.53,199.41 L68.54,199.41 L68.55,199.41 L68.55,199.41 L68.56,199.41 L68.56,199.41 L68.56,199.41 L68.57,199.41 L68.57,199.41 L68.58,199.41 L68.58,199.41 L68.58,199.4 L68.59,199.4 L68.59,199.4 L68.59,199.4 L68.59,199.4 L68.6,199.4 L68.6,199.4 L68.6,199.4 L68.6,199.4 L68.61,199.4 L68.61,199.4 L68.61,199.4 L68.61,199.4 L68.61,199.4 L68.61,199.4 L68.62,199.4 L68.62,199.4 L68.62,199.4 L68.62,199.4 L68.62,199.4 L68.62,199.4 L68.62,199.4 L68.62,199.4 L68.63,199.4 L68.63,199.4 L68.63,199.4 L68.63,199.4 L68.63,199.4 L68.63,199.4 L68.63,199.4 L68.63,199.4 L68.63,199.4 L68.63,199.4 L68.63,199.4 L68.63,199.4 L68.63,199.4 L68.63,199.4 L68.63,199.4 L68.63,199.4 L68.64,199.4 L68.64,199.4 L68.64,199.4 L68.64,199.4 L68.64,199.4 L68.64,199.4 L68.64,199.4 L68.64,199.4 L68.64,199.4 L68.64,199.4 L68.64,199.4 L68.64,199.4 L68.64,199.4 L68.64,199.4 L68.64,199.4 L68.64,199.4 L68.64,199.4 L68.64,199.4 L68.64,199.4 L68.64,199.4 L68.64,199.4 L68.64,199.4 L68.64,199.4 L68.64,199.4 L68.64,199.4 L68.64,199.4 L68.64,199.4 L68.64,199.4 L68.64,199.4 L68.64,199.4 L68.64,199.4 L68.64,199.4 L68.64,199.4 L68.64,199.4 L68.64,199.4 L68.64,199.4 L68.64,199.4 L68.64,199.4 L68.64,199.4 L68.64,199.4 L68.64,199.4 L68.64,199.4 L68.64,199.4 L68.64,199.4 L68.64,199.4 L68.64,199.4 L68.64,199.4 L68.64,199.4 L68.64,199.4 L68.64,199.4 L68.64,199.4 L68.64,199.4 L68.64,199.4 L68.64,199.4 L68.64,199.4 L68.64,199.4 L68.64,199.4 L68.64,199.4 L68.64,199.4 L68.64,199.4 L68.64,199.4 L68.64,199.4 L68.64,199.4 L68.64,199.4 L68.64,199.4 L68.64,199.4 L68.64,199.4 L68.64,199.4 L68.64,199.4 L68.64,199.4 L68.64,199.4 L68.64,199.4 L68.64,199.4 L68.64,199.4 L68.64,199.4 L68.64,199.4 L68.64,199.4 L68.64,199.4 L68.64,199.4 L68.64,199.4 L68.64,199.4 L68.64,199.4 L68.64,199.4 L68.64,199.4 L68.64,199.4 L68.64,199.4 L68.64,199.4 L68.64,199.4 L68.64,199.4 L68.64,199.4 L68.64,199.4 L68.64,199.4 L68.64,199.4 L68.64,199.4 L68.64,199.4 L68.64,199.4 L68.64,199.4 L68.64,199.4 L68.64,199.4 L68.64,199.4 L68.64,199.4" fill="none" stroke="#d95319" stroke-width="2.1" stroke-linejoin="round"/>
</g>
<text x="150" y="195" text-anchor="middle" class="tt">(c)</text>
<g transform="translate(146.5,355.8)"><path d="M3.9,-10.1 L4.0,-0.5" transform="translate(-15.9,0) scale(0.93,0.94)" fill="none" stroke="#222" stroke-width="1.25" stroke-linecap="round" stroke-linejoin="round"/><path d="M1.9,-10.2 C0.9,-10 0.3,-9.6 0.3,-8.9 C0.3,-8 0.4,-7.6 0.55,-7.2 C0.9,-6.6 1.6,-6.4 2.2,-6.4" transform="translate(-15.9,0) scale(0.93,0.94)" fill="none" stroke="#222" stroke-width="0.75" stroke-linecap="round" stroke-linejoin="round"/><path d="M1.9,-5.8 C0.8,-5.4 0.2,-5 0.17,-4.4 C0.1,-3.4 0.1,-2.6 0.3,-1.9 C0.6,-1.1 1.1,-0.7 1.7,-0.55 C2.3,-0.4 2.8,-0.3 3.4,-0.3" transform="translate(-15.9,0) scale(0.93,0.94)" fill="none" stroke="#222" stroke-width="0.75" stroke-linecap="round" stroke-linejoin="round"/><path d="M1.9,-10.2 C2.6,-10.4 3.3,-10.3 3.9,-10.1" transform="translate(-15.9,0) scale(0.93,0.94)" fill="none" stroke="#222" stroke-width="0.75" stroke-linecap="round" stroke-linejoin="round"/><path d="M4.5,-9.6 C5.2,-10.2 6,-10.5 6.9,-10.4 C7.8,-10.2 8.6,-9.6 9.1,-8.9 C9.5,-8.3 9.8,-7.7 9.7,-7.2 C9.4,-6.5 8.9,-6.2 8.3,-6 C7.7,-5.8 7.1,-5.7 6.6,-5.65" transform="translate(-15.9,0) scale(0.93,0.94)" fill="none" stroke="#222" stroke-width="0.9" stroke-linecap="round" stroke-linejoin="round"/><path d="M6.9,-6.1 C7.2,-4.5 7.3,-2.8 7.75,-1.4 C8,-0.7 8.4,-0.4 8.9,-0.45 C9.3,-0.5 9.7,-0.7 10,-1" transform="translate(-15.9,0) scale(0.93,0.94)" fill="none" stroke="#222" stroke-width="1.0" stroke-linecap="round" stroke-linejoin="round"/><text transform="translate(-5.3,0.4) scale(0.78,1)" class="pr" stroke="#222" stroke-width="0.25">(</text><text x="-0.8" y="-0.1" class="gi">G</text><text transform="translate(11.6,0.4) scale(0.78,1)" class="pr" stroke="#222" stroke-width="0.25">)</text></g>
<g transform="translate(16.2,262) rotate(-90)"><path d="M9.7,-8.65 C9.2,-7.9 8.9,-7.8 8.35,-7.55 C7.2,-6.9 6.4,-5.9 6.7,-4.75 C7.1,-3.6 9,-3.2 8.9,-2 C8.8,-0.7 7.8,-0.05 6.7,-0.05 C5.5,-0.05 4.9,-0.6 3.9,-0.9 C2.4,-1.3 0.9,-2 0.3,-3.35" transform="translate(-15.75,0) scale(1,1)" fill="none" stroke="#222" stroke-width="1.1" stroke-linecap="round" stroke-linejoin="round"/><path d="M7.24,-8.65 C6.4,-9.8 5.2,-10.6 3.9,-10.6 C2.4,-10.6 1.2,-10 0.9,-9.2 C0.5,-8 0.8,-6.8 1.7,-6.15 C2.3,-5.7 3,-5.55 3.6,-5.6" transform="translate(-15.75,0) scale(1,1)" fill="none" stroke="#222" stroke-width="0.9" stroke-linecap="round" stroke-linejoin="round"/><text transform="translate(-5.15,0.4) scale(0.78,1)" class="pr" stroke="#222" stroke-width="0.25">(</text><text x="-0.65" y="-0.1" class="gi">G</text><text transform="translate(11.75,0.4) scale(0.78,1)" class="pr" stroke="#222" stroke-width="0.25">)</text></g>
<clipPath id="c84"><rect x="303.5" y="198.5" width="221" height="127"/></clipPath>
<rect x="304.5" y="199.5" width="219" height="125" fill="none" stroke="#3c3c3c" stroke-width="1"/>
<path d="M304.5,324.5 v-2.6 M304.5,199.5 v2.6" stroke="#3c3c3c" stroke-width="1" fill="none"/>
<text transform="translate(307.6,342.4) scale(0.9,1)" text-anchor="middle" class="tk">-5</text>
<path d="M414,324.5 v-2.6 M414,199.5 v2.6" stroke="#3c3c3c" stroke-width="1" fill="none"/>
<text transform="translate(416.5,342.4) scale(0.9,1)" text-anchor="middle" class="tk">0</text>
<path d="M523.5,324.5 v-2.6 M523.5,199.5 v2.6" stroke="#3c3c3c" stroke-width="1" fill="none"/>
<text transform="translate(524.8,342.4) scale(0.9,1)" text-anchor="middle" class="tk">5</text>
<path d="M304.5,199.4 h2.6 M523.5,199.4 h-2.6" stroke="#3c3c3c" stroke-width="1" fill="none"/>
<text transform="translate(302.9,205.5) scale(0.9,1)" text-anchor="end" class="tk">0</text>
<path d="M304.5,234.07 h2.6 M523.5,234.07 h-2.6" stroke="#3c3c3c" stroke-width="1" fill="none"/>
<text transform="translate(303.5,240.47) scale(0.9,1)" text-anchor="end" class="tk">-50</text>
<path d="M304.5,268.73 h2.6 M523.5,268.73 h-2.6" stroke="#3c3c3c" stroke-width="1" fill="none"/>
<text transform="translate(303.5,275.13) scale(0.9,1)" text-anchor="end" class="tk">-100</text>
<path d="M304.5,303.4 h2.6 M523.5,303.4 h-2.6" stroke="#3c3c3c" stroke-width="1" fill="none"/>
<text transform="translate(303.5,309.8) scale(0.9,1)" text-anchor="end" class="tk">-150</text>
<g clip-path="url(#c84)">
<path d="M304.5,199.4 L304.87,199.4 L305.23,199.4 L305.6,199.4 L305.96,199.4 L306.33,199.4 L306.69,199.4 L307.06,199.4 L307.42,199.4 L307.79,199.4 L308.16,199.4 L308.52,199.4 L308.89,199.4 L309.25,199.4 L309.62,199.4 L309.98,199.4 L310.35,199.4 L310.72,199.4 L311.08,199.4 L311.45,199.4 L311.81,199.4 L312.18,199.4 L312.54,199.4 L312.91,199.4 L313.27,199.4 L313.64,199.4 L314.01,199.4 L314.37,199.4 L314.74,199.4 L315.1,199.4 L315.47,199.4 L315.83,199.4 L316.2,199.4 L316.57,199.4 L316.93,199.4 L317.3,199.4 L317.66,199.4 L318.03,199.4 L318.39,199.4 L318.76,199.4 L319.12,199.4 L319.49,199.4 L319.86,199.4 L320.22,199.4 L320.59,199.4 L320.95,199.4 L321.32,199.4 L321.68,199.4 L322.05,199.4 L322.41,199.4 L322.78,199.4 L323.15,199.4 L323.51,199.4 L323.88,199.4 L324.24,199.4 L324.61,199.4 L324.97,199.4 L325.34,199.4 L325.71,199.4 L326.07,199.4 L326.44,199.4 L326.8,199.4 L327.17,199.4 L327.53,199.4 L327.9,199.4 L328.26,199.4 L328.63,199.4 L329,199.4 L329.36,199.4 L329.73,199.4 L330.09,199.4 L330.46,199.4 L330.82,199.4 L331.19,199.4 L331.56,199.4 L331.92,199.4 L332.29,199.4 L332.65,199.4 L333.02,199.4 L333.38,199.4 L333.75,199.4 L334.11,199.4 L334.48,199.4 L334.85,199.4 L335.21,199.4 L335.58,199.4 L335.94,199.4 L336.31,199.4 L336.67,199.4 L337.04,199.4 L337.4,199.4 L337.77,199.4 L338.14,199.4 L338.5,199.4 L338.87,199.4 L339.23,199.4 L339.6,199.41 L339.96,199.41 L340.33,199.41 L340.7,199.41 L341.06,199.41 L341.43,199.41 L341.79,199.41 L342.16,199.41 L342.52,199.41 L342.89,199.41 L343.25,199.41 L343.62,199.41 L343.99,199.41 L344.35,199.41 L344.72,199.41 L345.08,199.41 L345.45,199.41 L345.81,199.41 L346.18,199.41 L346.55,199.41 L346.91,199.41 L347.28,199.41 L347.64,199.41 L348.01,199.41 L348.37,199.41 L348.74,199.41 L349.1,199.41 L349.47,199.41 L349.84,199.41 L350.2,199.42 L350.57,199.42 L350.93,199.42 L351.3,199.42 L351.66,199.42 L352.03,199.42 L352.39,199.42 L352.76,199.42 L353.13,199.42 L353.49,199.42 L353.86,199.42 L354.22,199.42 L354.59,199.42 L354.95,199.43 L355.32,199.43 L355.69,199.43 L356.05,199.43 L356.42,199.43 L356.78,199.43 L357.15,199.43 L357.51,199.43 L357.88,199.43 L358.24,199.44 L358.61,199.44 L358.98,199.44 L359.34,199.44 L359.71,199.44 L360.07,199.44 L360.44,199.45 L360.8,199.45 L361.17,199.45 L361.54,199.45 L361.9,199.45 L362.27,199.45 L362.63,199.46 L363,199.46 L363.36,199.46 L363.73,199.46 L364.09,199.47 L364.46,199.47 L364.83,199.47 L365.19,199.47 L365.56,199.48 L365.92,199.48 L366.29,199.48 L366.65,199.49 L367.02,199.49 L367.38,199.49 L367.75,199.5 L368.12,199.5 L368.48,199.51 L368.85,199.51 L369.21,199.51 L369.58,199.52 L369.94,199.52 L370.31,199.53 L370.68,199.53 L371.04,199.54 L371.41,199.54 L371.77,199.55 L372.14,199.56 L372.5,199.56 L372.87,199.57 L373.23,199.57 L373.6,199.58 L373.97,199.59 L374.33,199.6 L374.7,199.6 L375.06,199.61 L375.43,199.62 L375.79,199.63 L376.16,199.64 L376.53,199.65 L376.89,199.66 L377.26,199.67 L377.62,199.68 L377.99,199.69 L378.35,199.7 L378.72,199.71 L379.08,199.72 L379.45,199.73 L379.82,199.75 L380.18,199.76 L380.55,199.78 L380.91,199.79 L381.28,199.81 L381.64,199.82 L382.01,199.84 L382.37,199.86 L382.74,199.87 L383.11,199.89 L383.47,199.91 L383.84,199.93 L384.2,199.95 L384.57,199.97 L384.93,200 L385.3,200.02 L385.67,200.04 L386.03,200.07 L386.4,200.09 L386.76,200.12 L387.13,200.15 L387.49,200.18 L387.86,200.21 L388.22,200.24 L388.59,200.27 L388.96,200.31 L389.32,200.34 L389.69,200.38 L390.05,200.42 L390.42,200.46 L390.78,200.5 L391.15,200.54 L391.52,200.59 L391.88,200.64 L392.25,200.68 L392.61,200.73 L392.98,200.79 L393.34,200.84 L393.71,200.9 L394.07,200.96 L394.44,201.02 L394.81,201.08 L395.17,201.15 L395.54,201.21 L395.9,201.29 L396.27,201.36 L396.63,201.44 L397,201.52 L397.36,201.6 L397.73,201.68 L398.1,201.77 L398.46,201.87 L398.83,201.96 L399.19,202.06 L399.56,202.17 L399.92,202.28 L400.29,202.39 L400.66,202.51 L401.02,202.63 L401.39,202.75 L401.75,202.88 L402.12,203.02 L402.48,203.16 L402.85,203.31 L403.21,203.46 L403.58,203.62 L403.95,203.78 L404.31,203.95 L404.68,204.13 L405.04,204.31 L405.41,204.5 L405.77,204.7 L406.14,204.91 L406.51,205.12 L406.87,205.34 L407.24,205.57 L407.6,205.81 L407.97,206.06 L408.33,206.32 L408.7,206.58 L409.06,206.86 L409.43,207.14 L409.8,207.44 L410.16,207.75 L410.53,208.07 L410.89,208.4 L411.26,208.74 L411.62,209.1 L411.99,209.46 L412.35,209.84 L412.72,210.24 L413.09,210.64 L413.45,211.06 L413.82,211.5 L414.18,211.95 L414.55,212.41 L414.91,212.89 L415.28,213.39 L415.65,213.9 L416.01,214.42 L416.38,214.97 L416.74,215.52 L417.11,216.1 L417.47,216.69 L417.84,217.3 L418.2,217.92 L418.57,218.56 L418.94,219.22 L419.3,219.89 L419.67,220.58 L420.03,221.29 L420.4,222.01 L420.76,222.74 L421.13,223.49 L421.49,224.26 L421.86,225.03 L422.23,225.83 L422.59,226.63 L422.96,227.44 L423.32,228.27 L423.69,229.1 L424.05,229.95 L424.42,230.8 L424.79,231.66 L425.15,232.52 L425.52,233.39 L425.88,234.27 L426.25,235.15 L426.61,236.03 L426.98,236.91 L427.34,237.79 L427.71,238.67 L428.08,239.55 L428.44,240.43 L428.81,241.31 L429.17,242.18 L429.54,243.05 L429.9,243.91 L430.27,244.77 L430.64,245.63 L431,246.48 L431.37,247.32 L431.73,248.16 L432.1,248.99 L432.46,249.81 L432.83,250.63 L433.19,251.44 L433.56,252.25 L433.93,253.05 L434.29,253.84 L434.66,254.64 L435.02,255.42 L435.39,256.2 L435.75,256.98 L436.12,257.76 L436.48,258.53 L436.85,259.3 L437.22,260.06 L437.58,260.83 L437.95,261.6 L438.31,262.36 L438.68,263.13 L439.04,263.89 L439.41,264.66 L439.78,265.43 L440.14,266.21 L440.51,266.98 L440.87,267.76 L441.24,268.54 L441.6,269.33 L441.97,270.13 L442.33,270.92 L442.7,271.73 L443.07,272.54 L443.43,273.35 L443.8,274.17 L444.16,275 L444.53,275.83 L444.89,276.67 L445.26,277.52 L445.63,278.37 L445.99,279.23 L446.36,280.09 L446.72,280.95 L447.09,281.82 L447.45,282.7 L447.82,283.58 L448.18,284.46 L448.55,285.34 L448.92,286.22 L449.28,287.1 L449.65,287.98 L450.01,288.86 L450.38,289.74 L450.74,290.61 L451.11,291.48 L451.47,292.34 L451.84,293.2 L452.21,294.05 L452.57,294.89 L452.94,295.72 L453.3,296.54 L453.67,297.35 L454.03,298.14 L454.4,298.93 L454.77,299.7 L455.13,300.46 L455.5,301.2 L455.86,301.93 L456.23,302.64 L456.59,303.34 L456.96,304.02 L457.32,304.69 L457.69,305.34 L458.06,305.97 L458.42,306.59 L458.79,307.19 L459.15,307.77 L459.52,308.34 L459.88,308.89 L460.25,309.42 L460.62,309.94 L460.98,310.45 L461.35,310.93 L461.71,311.41 L462.08,311.86 L462.44,312.31 L462.81,312.73 L463.17,313.15 L463.54,313.55 L463.91,313.94 L464.27,314.31 L464.64,314.67 L465,315.02 L465.37,315.36 L465.73,315.68 L466.1,316 L466.46,316.3 L466.83,316.59 L467.2,316.87 L467.56,317.14 L467.93,317.41 L468.29,317.66 L468.66,317.9 L469.02,318.14 L469.39,318.36 L469.76,318.58 L470.12,318.79 L470.49,318.99 L470.85,319.19 L471.22,319.37 L471.58,319.55 L471.95,319.73 L472.31,319.9 L472.68,320.06 L473.05,320.21 L473.41,320.36 L473.78,320.51 L474.14,320.64 L474.51,320.78 L474.87,320.91 L475.24,321.03 L475.61,321.15 L475.97,321.26 L476.34,321.37 L476.7,321.48 L477.07,321.58 L477.43,321.68 L477.8,321.78 L478.16,321.87 L478.53,321.96 L478.9,322.04 L479.26,322.12 L479.63,322.2 L479.99,322.28 L480.36,322.35 L480.72,322.42 L481.09,322.48 L481.45,322.55 L481.82,322.61 L482.19,322.67 L482.55,322.73 L482.92,322.78 L483.28,322.84 L483.65,322.89 L484.01,322.94 L484.38,322.99 L484.75,323.03 L485.11,323.08 L485.48,323.12 L485.84,323.16 L486.21,323.2 L486.57,323.24 L486.94,323.27 L487.3,323.31 L487.67,323.34 L488.04,323.37 L488.4,323.4 L488.77,323.43 L489.13,323.46 L489.5,323.49 L489.86,323.52 L490.23,323.54 L490.6,323.57 L490.96,323.59 L491.33,323.62 L491.69,323.64 L492.06,323.66 L492.42,323.68 L492.79,323.7 L493.15,323.72 L493.52,323.74 L493.89,323.75 L494.25,323.77 L494.62,323.79 L494.98,323.8 L495.35,323.82 L495.71,323.83 L496.08,323.85 L496.44,323.86 L496.81,323.87 L497.18,323.88 L497.54,323.9 L497.91,323.91 L498.27,323.92 L498.64,323.93 L499,323.94 L499.37,323.95 L499.74,323.96 L500.1,323.97 L500.47,323.98 L500.83,323.98 L501.2,323.99 L501.56,324 L501.93,324.01 L502.29,324.02 L502.66,324.02 L503.03,324.03 L503.39,324.04 L503.76,324.04 L504.12,324.05 L504.49,324.05 L504.85,324.06 L505.22,324.06 L505.59,324.07 L505.95,324.07 L506.32,324.08 L506.68,324.08 L507.05,324.09 L507.41,324.09 L507.78,324.1 L508.14,324.1 L508.51,324.1 L508.88,324.11 L509.24,324.11 L509.61,324.11 L509.97,324.12 L510.34,324.12 L510.7,324.12 L511.07,324.13 L511.43,324.13 L511.8,324.13 L512.17,324.13 L512.53,324.14 L512.9,324.14 L513.26,324.14 L513.63,324.14 L513.99,324.15 L514.36,324.15 L514.73,324.15 L515.09,324.15 L515.46,324.15 L515.82,324.16 L516.19,324.16 L516.55,324.16 L516.92,324.16 L517.28,324.16 L517.65,324.16 L518.02,324.16 L518.38,324.17 L518.75,324.17 L519.11,324.17 L519.48,324.17 L519.84,324.17 L520.21,324.17 L520.58,324.17 L520.94,324.17 L521.31,324.17 L521.67,324.18 L522.04,324.18 L522.4,324.18 L522.77,324.18 L523.13,324.18 L523.5,324.18" fill="none" stroke="#00005f" stroke-width="1.9" stroke-linejoin="round"/>
<path d="M304.5,199.4 L304.87,199.4 L305.23,199.4 L305.6,199.4 L305.96,199.4 L306.33,199.4 L306.69,199.4 L307.06,199.4 L307.42,199.4 L307.79,199.4 L308.16,199.4 L308.52,199.4 L308.89,199.4 L309.25,199.4 L309.62,199.4 L309.98,199.4 L310.35,199.4 L310.72,199.4 L311.08,199.4 L311.45,199.4 L311.81,199.4 L312.18,199.4 L312.54,199.4 L312.91,199.4 L313.27,199.4 L313.64,199.4 L314.01,199.4 L314.37,199.4 L314.74,199.4 L315.1,199.4 L315.47,199.4 L315.83,199.4 L316.2,199.4 L316.57,199.4 L316.93,199.4 L317.3,199.4 L317.66,199.4 L318.03,199.4 L318.39,199.4 L318.76,199.4 L319.12,199.4 L319.49,199.4 L319.86,199.4 L320.22,199.4 L320.59,199.4 L320.95,199.4 L321.32,199.4 L321.68,199.4 L322.05,199.4 L322.41,199.4 L322.78,199.4 L323.15,199.4 L323.51,199.4 L323.88,199.4 L324.24,199.4 L324.61,199.4 L324.97,199.4 L325.34,199.4 L325.71,199.4 L326.07,199.4 L326.44,199.4 L326.8,199.4 L327.17,199.4 L327.53,199.4 L327.9,199.4 L328.26,199.4 L328.63,199.4 L329,199.4 L329.36,199.4 L329.73,199.4 L330.09,199.4 L330.46,199.4 L330.82,199.4 L331.19,199.4 L331.56,199.4 L331.92,199.4 L332.29,199.4 L332.65,199.4 L333.02,199.4 L333.38,199.4 L333.75,199.4 L334.11,199.4 L334.48,199.4 L334.85,199.4 L335.21,199.4 L335.58,199.4 L335.94,199.4 L336.31,199.41 L336.67,199.41 L337.04,199.41 L337.4,199.41 L337.77,199.41 L338.14,199.41 L338.5,199.41 L338.87,199.41 L339.23,199.41 L339.6,199.41 L339.96,199.41 L340.33,199.41 L340.7,199.41 L341.06,199.41 L341.43,199.41 L341.79,199.41 L342.16,199.41 L342.52,199.41 L342.89,199.41 L343.25,199.41 L343.62,199.41 L343.99,199.41 L344.35,199.41 L344.72,199.41 L345.08,199.41 L345.45,199.41 L345.81,199.41 L346.18,199.41 L346.55,199.42 L346.91,199.42 L347.28,199.42 L347.64,199.42 L348.01,199.42 L348.37,199.42 L348.74,199.42 L349.1,199.42 L349.47,199.42 L349.84,199.42 L350.2,199.42 L350.57,199.42 L350.93,199.42 L351.3,199.42 L351.66,199.43 L352.03,199.43 L352.39,199.43 L352.76,199.43 L353.13,199.43 L353.49,199.43 L353.86,199.43 L354.22,199.43 L354.59,199.44 L354.95,199.44 L355.32,199.44 L355.69,199.44 L356.05,199.44 L356.42,199.44 L356.78,199.44 L357.15,199.45 L357.51,199.45 L357.88,199.45 L358.24,199.45 L358.61,199.45 L358.98,199.46 L359.34,199.46 L359.71,199.46 L360.07,199.46 L360.44,199.46 L360.8,199.47 L361.17,199.47 L361.54,199.47 L361.9,199.48 L362.27,199.48 L362.63,199.48 L363,199.48 L363.36,199.49 L363.73,199.49 L364.09,199.5 L364.46,199.5 L364.83,199.5 L365.19,199.51 L365.56,199.51 L365.92,199.52 L366.29,199.52 L366.65,199.52 L367.02,199.53 L367.38,199.53 L367.75,199.54 L368.12,199.55 L368.48,199.55 L368.85,199.56 L369.21,199.56 L369.58,199.57 L369.94,199.58 L370.31,199.58 L370.68,199.59 L371.04,199.6 L371.41,199.61 L371.77,199.61 L372.14,199.62 L372.5,199.63 L372.87,199.64 L373.23,199.65 L373.6,199.66 L373.97,199.67 L374.33,199.68 L374.7,199.69 L375.06,199.7 L375.43,199.71 L375.79,199.73 L376.16,199.74 L376.53,199.75 L376.89,199.77 L377.26,199.78 L377.62,199.79 L377.99,199.81 L378.35,199.83 L378.72,199.84 L379.08,199.86 L379.45,199.88 L379.82,199.9 L380.18,199.92 L380.55,199.94 L380.91,199.96 L381.28,199.98 L381.64,200 L382.01,200.03 L382.37,200.05 L382.74,200.08 L383.11,200.1 L383.47,200.13 L383.84,200.16 L384.2,200.19 L384.57,200.22 L384.93,200.25 L385.3,200.28 L385.67,200.32 L386.03,200.35 L386.4,200.39 L386.76,200.43 L387.13,200.47 L387.49,200.51 L387.86,200.56 L388.22,200.6 L388.59,200.65 L388.96,200.7 L389.32,200.75 L389.69,200.8 L390.05,200.86 L390.42,200.91 L390.78,200.97 L391.15,201.03 L391.52,201.1 L391.88,201.17 L392.25,201.23 L392.61,201.31 L392.98,201.38 L393.34,201.46 L393.71,201.54 L394.07,201.62 L394.44,201.71 L394.81,201.8 L395.17,201.89 L395.54,201.99 L395.9,202.09 L396.27,202.2 L396.63,202.31 L397,202.42 L397.36,202.54 L397.73,202.66 L398.1,202.79 L398.46,202.92 L398.83,203.06 L399.19,203.2 L399.56,203.35 L399.92,203.5 L400.29,203.66 L400.66,203.83 L401.02,204 L401.39,204.18 L401.75,204.36 L402.12,204.56 L402.48,204.76 L402.85,204.96 L403.21,205.18 L403.58,205.4 L403.95,205.63 L404.31,205.88 L404.68,206.13 L405.04,206.38 L405.41,206.65 L405.77,206.93 L406.14,207.22 L406.51,207.52 L406.87,207.83 L407.24,208.15 L407.6,208.48 L407.97,208.83 L408.33,209.19 L408.7,209.55 L409.06,209.94 L409.43,210.33 L409.8,210.74 L410.16,211.16 L410.53,211.6 L410.89,212.05 L411.26,212.52 L411.62,213 L411.99,213.49 L412.35,214.01 L412.72,214.53 L413.09,215.07 L413.45,215.63 L413.82,216.21 L414.18,216.8 L414.55,217.4 L414.91,218.02 L415.28,218.66 L415.65,219.31 L416.01,219.98 L416.38,220.66 L416.74,221.36 L417.11,222.07 L417.47,222.8 L417.84,223.54 L418.2,224.29 L418.57,225.05 L418.94,225.83 L419.3,226.61 L419.67,227.41 L420.03,228.21 L420.4,229.03 L420.76,229.85 L421.13,230.67 L421.49,231.5 L421.86,232.34 L422.23,233.18 L422.59,234.02 L422.96,234.86 L423.32,235.7 L423.69,236.54 L424.05,237.38 L424.42,238.21 L424.79,239.04 L425.15,239.87 L425.52,240.69 L425.88,241.51 L426.25,242.32 L426.61,243.12 L426.98,243.92 L427.34,244.71 L427.71,245.49 L428.08,246.26 L428.44,247.02 L428.81,247.78 L429.17,248.52 L429.54,249.26 L429.9,249.99 L430.27,250.71 L430.64,251.42 L431,252.13 L431.37,252.82 L431.73,253.51 L432.1,254.2 L432.46,254.87 L432.83,255.55 L433.19,256.21 L433.56,256.87 L433.93,257.53 L434.29,258.18 L434.66,258.83 L435.02,259.47 L435.39,260.12 L435.75,260.76 L436.12,261.4 L436.48,262.04 L436.85,262.68 L437.22,263.32 L437.58,263.96 L437.95,264.61 L438.31,265.26 L438.68,265.91 L439.04,266.56 L439.41,267.22 L439.78,267.88 L440.14,268.55 L440.51,269.23 L440.87,269.91 L441.24,270.6 L441.6,271.29 L441.97,272 L442.33,272.71 L442.7,273.43 L443.07,274.15 L443.43,274.89 L443.8,275.63 L444.16,276.39 L444.53,277.15 L444.89,277.92 L445.26,278.69 L445.63,279.48 L445.99,280.27 L446.36,281.08 L446.72,281.88 L447.09,282.7 L447.45,283.52 L447.82,284.35 L448.18,285.18 L448.55,286.01 L448.92,286.85 L449.28,287.69 L449.65,288.53 L450.01,289.37 L450.38,290.21 L450.74,291.05 L451.11,291.88 L451.47,292.72 L451.84,293.54 L452.21,294.36 L452.57,295.18 L452.94,295.99 L453.3,296.78 L453.67,297.57 L454.03,298.35 L454.4,299.12 L454.77,299.87 L455.13,300.61 L455.5,301.34 L455.86,302.06 L456.23,302.76 L456.59,303.45 L456.96,304.12 L457.32,304.78 L457.69,305.42 L458.06,306.04 L458.42,306.65 L458.79,307.24 L459.15,307.82 L459.52,308.38 L459.88,308.93 L460.25,309.46 L460.62,309.98 L460.98,310.48 L461.35,310.96 L461.71,311.43 L462.08,311.89 L462.44,312.33 L462.81,312.75 L463.17,313.16 L463.54,313.56 L463.91,313.95 L464.27,314.32 L464.64,314.68 L465,315.03 L465.37,315.37 L465.73,315.69 L466.1,316 L466.46,316.3 L466.83,316.6 L467.2,316.88 L467.56,317.15 L467.93,317.41 L468.29,317.66 L468.66,317.9 L469.02,318.14 L469.39,318.36 L469.76,318.58 L470.12,318.79 L470.49,318.99 L470.85,319.19 L471.22,319.38 L471.58,319.56 L471.95,319.73 L472.31,319.9 L472.68,320.06 L473.05,320.21 L473.41,320.36 L473.78,320.51 L474.14,320.65 L474.51,320.78 L474.87,320.91 L475.24,321.03 L475.61,321.15 L475.97,321.26 L476.34,321.38 L476.7,321.48 L477.07,321.58 L477.43,321.68 L477.8,321.78 L478.16,321.87 L478.53,321.96 L478.9,322.04 L479.26,322.12 L479.63,322.2 L479.99,322.28 L480.36,322.35 L480.72,322.42 L481.09,322.48 L481.45,322.55 L481.82,322.61 L482.19,322.67 L482.55,322.73 L482.92,322.78 L483.28,322.84 L483.65,322.89 L484.01,322.94 L484.38,322.99 L484.75,323.03 L485.11,323.08 L485.48,323.12 L485.84,323.16 L486.21,323.2 L486.57,323.24 L486.94,323.27 L487.3,323.31 L487.67,323.34 L488.04,323.37 L488.4,323.4 L488.77,323.43 L489.13,323.46 L489.5,323.49 L489.86,323.52 L490.23,323.54 L490.6,323.57 L490.96,323.59 L491.33,323.62 L491.69,323.64 L492.06,323.66 L492.42,323.68 L492.79,323.7 L493.15,323.72 L493.52,323.74 L493.89,323.75 L494.25,323.77 L494.62,323.79 L494.98,323.8 L495.35,323.82 L495.71,323.83 L496.08,323.85 L496.44,323.86 L496.81,323.87 L497.18,323.88 L497.54,323.9 L497.91,323.91 L498.27,323.92 L498.64,323.93 L499,323.94 L499.37,323.95 L499.74,323.96 L500.1,323.97 L500.47,323.98 L500.83,323.98 L501.2,323.99 L501.56,324 L501.93,324.01 L502.29,324.02 L502.66,324.02 L503.03,324.03 L503.39,324.04 L503.76,324.04 L504.12,324.05 L504.49,324.05 L504.85,324.06 L505.22,324.06 L505.59,324.07 L505.95,324.07 L506.32,324.08 L506.68,324.08 L507.05,324.09 L507.41,324.09 L507.78,324.1 L508.14,324.1 L508.51,324.1 L508.88,324.11 L509.24,324.11 L509.61,324.11 L509.97,324.12 L510.34,324.12 L510.7,324.12 L511.07,324.13 L511.43,324.13 L511.8,324.13 L512.17,324.13 L512.53,324.14 L512.9,324.14 L513.26,324.14 L513.63,324.14 L513.99,324.15 L514.36,324.15 L514.73,324.15 L515.09,324.15 L515.46,324.15 L515.82,324.16 L516.19,324.16 L516.55,324.16 L516.92,324.16 L517.28,324.16 L517.65,324.16 L518.02,324.16 L518.38,324.17 L518.75,324.17 L519.11,324.17 L519.48,324.17 L519.84,324.17 L520.21,324.17 L520.58,324.17 L520.94,324.17 L521.31,324.17 L521.67,324.18 L522.04,324.18 L522.4,324.18 L522.77,324.18 L523.13,324.18 L523.5,324.18" fill="none" stroke="#2b3d9e" stroke-width="1.9" stroke-linejoin="round"/>
<path d="M304.5,199.4 L304.87,199.4 L305.23,199.4 L305.6,199.4 L305.96,199.4 L306.33,199.4 L306.69,199.4 L307.06,199.4 L307.42,199.4 L307.79,199.4 L308.16,199.4 L308.52,199.4 L308.89,199.4 L309.25,199.4 L309.62,199.4 L309.98,199.4 L310.35,199.4 L310.72,199.4 L311.08,199.4 L311.45,199.4 L311.81,199.4 L312.18,199.4 L312.54,199.4 L312.91,199.4 L313.27,199.4 L313.64,199.4 L314.01,199.4 L314.37,199.4 L314.74,199.4 L315.1,199.4 L315.47,199.4 L315.83,199.4 L316.2,199.4 L316.57,199.4 L316.93,199.4 L317.3,199.4 L317.66,199.4 L318.03,199.4 L318.39,199.4 L318.76,199.4 L319.12,199.4 L319.49,199.4 L319.86,199.4 L320.22,199.4 L320.59,199.4 L320.95,199.4 L321.32,199.4 L321.68,199.4 L322.05,199.4 L322.41,199.4 L322.78,199.4 L323.15,199.4 L323.51,199.4 L323.88,199.4 L324.24,199.4 L324.61,199.4 L324.97,199.4 L325.34,199.4 L325.71,199.4 L326.07,199.4 L326.44,199.4 L326.8,199.4 L327.17,199.4 L327.53,199.4 L327.9,199.4 L328.26,199.4 L328.63,199.4 L329,199.4 L329.36,199.4 L329.73,199.4 L330.09,199.4 L330.46,199.4 L330.82,199.4 L331.19,199.4 L331.56,199.4 L331.92,199.4 L332.29,199.4 L332.65,199.4 L333.02,199.41 L333.38,199.41 L333.75,199.41 L334.11,199.41 L334.48,199.41 L334.85,199.41 L335.21,199.41 L335.58,199.41 L335.94,199.41 L336.31,199.41 L336.67,199.41 L337.04,199.41 L337.4,199.41 L337.77,199.41 L338.14,199.41 L338.5,199.41 L338.87,199.41 L339.23,199.41 L339.6,199.41 L339.96,199.41 L340.33,199.41 L340.7,199.41 L341.06,199.41 L341.43,199.41 L341.79,199.41 L342.16,199.41 L342.52,199.41 L342.89,199.41 L343.25,199.41 L343.62,199.42 L343.99,199.42 L344.35,199.42 L344.72,199.42 L345.08,199.42 L345.45,199.42 L345.81,199.42 L346.18,199.42 L346.55,199.42 L346.91,199.42 L347.28,199.42 L347.64,199.42 L348.01,199.42 L348.37,199.43 L348.74,199.43 L349.1,199.43 L349.47,199.43 L349.84,199.43 L350.2,199.43 L350.57,199.43 L350.93,199.43 L351.3,199.43 L351.66,199.44 L352.03,199.44 L352.39,199.44 L352.76,199.44 L353.13,199.44 L353.49,199.44 L353.86,199.45 L354.22,199.45 L354.59,199.45 L354.95,199.45 L355.32,199.45 L355.69,199.46 L356.05,199.46 L356.42,199.46 L356.78,199.46 L357.15,199.46 L357.51,199.47 L357.88,199.47 L358.24,199.47 L358.61,199.47 L358.98,199.48 L359.34,199.48 L359.71,199.48 L360.07,199.49 L360.44,199.49 L360.8,199.49 L361.17,199.5 L361.54,199.5 L361.9,199.51 L362.27,199.51 L362.63,199.51 L363,199.52 L363.36,199.52 L363.73,199.53 L364.09,199.53 L364.46,199.54 L364.83,199.54 L365.19,199.55 L365.56,199.56 L365.92,199.56 L366.29,199.57 L366.65,199.57 L367.02,199.58 L367.38,199.59 L367.75,199.6 L368.12,199.6 L368.48,199.61 L368.85,199.62 L369.21,199.63 L369.58,199.64 L369.94,199.65 L370.31,199.66 L370.68,199.67 L371.04,199.68 L371.41,199.69 L371.77,199.7 L372.14,199.71 L372.5,199.72 L372.87,199.73 L373.23,199.75 L373.6,199.76 L373.97,199.78 L374.33,199.79 L374.7,199.81 L375.06,199.82 L375.43,199.84 L375.79,199.86 L376.16,199.87 L376.53,199.89 L376.89,199.91 L377.26,199.93 L377.62,199.95 L377.99,199.97 L378.35,200 L378.72,200.02 L379.08,200.04 L379.45,200.07 L379.82,200.1 L380.18,200.12 L380.55,200.15 L380.91,200.18 L381.28,200.21 L381.64,200.24 L382.01,200.28 L382.37,200.31 L382.74,200.35 L383.11,200.38 L383.47,200.42 L383.84,200.46 L384.2,200.5 L384.57,200.55 L384.93,200.59 L385.3,200.64 L385.67,200.69 L386.03,200.74 L386.4,200.79 L386.76,200.84 L387.13,200.9 L387.49,200.96 L387.86,201.02 L388.22,201.08 L388.59,201.15 L388.96,201.22 L389.32,201.29 L389.69,201.36 L390.05,201.44 L390.42,201.52 L390.78,201.6 L391.15,201.69 L391.52,201.78 L391.88,201.87 L392.25,201.97 L392.61,202.07 L392.98,202.17 L393.34,202.28 L393.71,202.39 L394.07,202.51 L394.44,202.63 L394.81,202.76 L395.17,202.89 L395.54,203.02 L395.9,203.16 L396.27,203.31 L396.63,203.46 L397,203.62 L397.36,203.78 L397.73,203.96 L398.1,204.13 L398.46,204.32 L398.83,204.51 L399.19,204.71 L399.56,204.91 L399.92,205.12 L400.29,205.35 L400.66,205.57 L401.02,205.81 L401.39,206.06 L401.75,206.32 L402.12,206.58 L402.48,206.86 L402.85,207.14 L403.21,207.44 L403.58,207.75 L403.95,208.07 L404.31,208.39 L404.68,208.74 L405.04,209.09 L405.41,209.45 L405.77,209.83 L406.14,210.22 L406.51,210.63 L406.87,211.05 L407.24,211.48 L407.6,211.92 L407.97,212.38 L408.33,212.86 L408.7,213.35 L409.06,213.85 L409.43,214.37 L409.8,214.91 L410.16,215.46 L410.53,216.03 L410.89,216.61 L411.26,217.21 L411.62,217.82 L411.99,218.45 L412.35,219.09 L412.72,219.75 L413.09,220.42 L413.45,221.11 L413.82,221.81 L414.18,222.52 L414.55,223.25 L414.91,223.98 L415.28,224.73 L415.65,225.49 L416.01,226.26 L416.38,227.04 L416.74,227.83 L417.11,228.63 L417.47,229.43 L417.84,230.23 L418.2,231.04 L418.57,231.86 L418.94,232.67 L419.3,233.49 L419.67,234.3 L420.03,235.12 L420.4,235.93 L420.76,236.74 L421.13,237.55 L421.49,238.35 L421.86,239.15 L422.23,239.94 L422.59,240.72 L422.96,241.49 L423.32,242.26 L423.69,243.02 L424.05,243.77 L424.42,244.51 L424.79,245.23 L425.15,245.95 L425.52,246.66 L425.88,247.36 L426.25,248.05 L426.61,248.73 L426.98,249.4 L427.34,250.05 L427.71,250.7 L428.08,251.34 L428.44,251.97 L428.81,252.59 L429.17,253.2 L429.54,253.81 L429.9,254.4 L430.27,254.99 L430.64,255.57 L431,256.15 L431.37,256.72 L431.73,257.28 L432.1,257.84 L432.46,258.39 L432.83,258.94 L433.19,259.49 L433.56,260.04 L433.93,260.58 L434.29,261.12 L434.66,261.66 L435.02,262.21 L435.39,262.75 L435.75,263.29 L436.12,263.83 L436.48,264.38 L436.85,264.93 L437.22,265.48 L437.58,266.04 L437.95,266.6 L438.31,267.17 L438.68,267.74 L439.04,268.32 L439.41,268.9 L439.78,269.49 L440.14,270.09 L440.51,270.7 L440.87,271.32 L441.24,271.94 L441.6,272.58 L441.97,273.22 L442.33,273.87 L442.7,274.53 L443.07,275.21 L443.43,275.89 L443.8,276.58 L444.16,277.29 L444.53,278 L444.89,278.73 L445.26,279.46 L445.63,280.2 L445.99,280.96 L446.36,281.72 L446.72,282.49 L447.09,283.27 L447.45,284.06 L447.82,284.85 L448.18,285.65 L448.55,286.45 L448.92,287.26 L449.28,288.07 L449.65,288.89 L450.01,289.7 L450.38,290.52 L450.74,291.33 L451.11,292.15 L451.47,292.96 L451.84,293.77 L452.21,294.57 L452.57,295.37 L452.94,296.16 L453.3,296.94 L453.67,297.72 L454.03,298.49 L454.4,299.24 L454.77,299.98 L455.13,300.72 L455.5,301.44 L455.86,302.14 L456.23,302.84 L456.59,303.52 L456.96,304.18 L457.32,304.83 L457.69,305.47 L458.06,306.09 L458.42,306.69 L458.79,307.28 L459.15,307.86 L459.52,308.42 L459.88,308.96 L460.25,309.49 L460.62,310 L460.98,310.5 L461.35,310.98 L461.71,311.45 L462.08,311.9 L462.44,312.34 L462.81,312.76 L463.17,313.18 L463.54,313.57 L463.91,313.96 L464.27,314.33 L464.64,314.69 L465,315.04 L465.37,315.37 L465.73,315.69 L466.1,316.01 L466.46,316.31 L466.83,316.6 L467.2,316.88 L467.56,317.15 L467.93,317.41 L468.29,317.66 L468.66,317.91 L469.02,318.14 L469.39,318.37 L469.76,318.58 L470.12,318.79 L470.49,318.99 L470.85,319.19 L471.22,319.38 L471.58,319.56 L471.95,319.73 L472.31,319.9 L472.68,320.06 L473.05,320.21 L473.41,320.36 L473.78,320.51 L474.14,320.65 L474.51,320.78 L474.87,320.91 L475.24,321.03 L475.61,321.15 L475.97,321.27 L476.34,321.38 L476.7,321.48 L477.07,321.58 L477.43,321.68 L477.8,321.78 L478.16,321.87 L478.53,321.96 L478.9,322.04 L479.26,322.12 L479.63,322.2 L479.99,322.28 L480.36,322.35 L480.72,322.42 L481.09,322.48 L481.45,322.55 L481.82,322.61 L482.19,322.67 L482.55,322.73 L482.92,322.78 L483.28,322.84 L483.65,322.89 L484.01,322.94 L484.38,322.99 L484.75,323.03 L485.11,323.08 L485.48,323.12 L485.84,323.16 L486.21,323.2 L486.57,323.24 L486.94,323.27 L487.3,323.31 L487.67,323.34 L488.04,323.37 L488.4,323.4 L488.77,323.43 L489.13,323.46 L489.5,323.49 L489.86,323.52 L490.23,323.54 L490.6,323.57 L490.96,323.59 L491.33,323.62 L491.69,323.64 L492.06,323.66 L492.42,323.68 L492.79,323.7 L493.15,323.72 L493.52,323.74 L493.89,323.75 L494.25,323.77 L494.62,323.79 L494.98,323.8 L495.35,323.82 L495.71,323.83 L496.08,323.85 L496.44,323.86 L496.81,323.87 L497.18,323.88 L497.54,323.9 L497.91,323.91 L498.27,323.92 L498.64,323.93 L499,323.94 L499.37,323.95 L499.74,323.96 L500.1,323.97 L500.47,323.98 L500.83,323.98 L501.2,323.99 L501.56,324 L501.93,324.01 L502.29,324.02 L502.66,324.02 L503.03,324.03 L503.39,324.04 L503.76,324.04 L504.12,324.05 L504.49,324.05 L504.85,324.06 L505.22,324.06 L505.59,324.07 L505.95,324.07 L506.32,324.08 L506.68,324.08 L507.05,324.09 L507.41,324.09 L507.78,324.1 L508.14,324.1 L508.51,324.1 L508.88,324.11 L509.24,324.11 L509.61,324.11 L509.97,324.12 L510.34,324.12 L510.7,324.12 L511.07,324.13 L511.43,324.13 L511.8,324.13 L512.17,324.13 L512.53,324.14 L512.9,324.14 L513.26,324.14 L513.63,324.14 L513.99,324.15 L514.36,324.15 L514.73,324.15 L515.09,324.15 L515.46,324.15 L515.82,324.16 L516.19,324.16 L516.55,324.16 L516.92,324.16 L517.28,324.16 L517.65,324.16 L518.02,324.16 L518.38,324.17 L518.75,324.17 L519.11,324.17 L519.48,324.17 L519.84,324.17 L520.21,324.17 L520.58,324.17 L520.94,324.17 L521.31,324.17 L521.67,324.18 L522.04,324.18 L522.4,324.18 L522.77,324.18 L523.13,324.18 L523.5,324.18" fill="none" stroke="#3f62b8" stroke-width="1.9" stroke-linejoin="round"/>
<path d="M304.5,199.4 L304.87,199.4 L305.23,199.4 L305.6,199.4 L305.96,199.4 L306.33,199.4 L306.69,199.4 L307.06,199.4 L307.42,199.4 L307.79,199.4 L308.16,199.4 L308.52,199.4 L308.89,199.4 L309.25,199.4 L309.62,199.4 L309.98,199.4 L310.35,199.4 L310.72,199.4 L311.08,199.4 L311.45,199.4 L311.81,199.4 L312.18,199.4 L312.54,199.4 L312.91,199.4 L313.27,199.4 L313.64,199.4 L314.01,199.4 L314.37,199.4 L314.74,199.4 L315.1,199.4 L315.47,199.4 L315.83,199.4 L316.2,199.4 L316.57,199.4 L316.93,199.4 L317.3,199.4 L317.66,199.4 L318.03,199.4 L318.39,199.4 L318.76,199.4 L319.12,199.4 L319.49,199.4 L319.86,199.4 L320.22,199.4 L320.59,199.4 L320.95,199.4 L321.32,199.4 L321.68,199.4 L322.05,199.4 L322.41,199.4 L322.78,199.4 L323.15,199.4 L323.51,199.4 L323.88,199.4 L324.24,199.4 L324.61,199.4 L324.97,199.4 L325.34,199.4 L325.71,199.4 L326.07,199.4 L326.44,199.4 L326.8,199.4 L327.17,199.4 L327.53,199.4 L327.9,199.4 L328.26,199.41 L328.63,199.41 L329,199.41 L329.36,199.41 L329.73,199.41 L330.09,199.41 L330.46,199.41 L330.82,199.41 L331.19,199.41 L331.56,199.41 L331.92,199.41 L332.29,199.41 L332.65,199.41 L333.02,199.41 L333.38,199.41 L333.75,199.41 L334.11,199.41 L334.48,199.41 L334.85,199.41 L335.21,199.41 L335.58,199.41 L335.94,199.41 L336.31,199.41 L336.67,199.41 L337.04,199.41 L337.4,199.41 L337.77,199.41 L338.14,199.41 L338.5,199.42 L338.87,199.42 L339.23,199.42 L339.6,199.42 L339.96,199.42 L340.33,199.42 L340.7,199.42 L341.06,199.42 L341.43,199.42 L341.79,199.42 L342.16,199.42 L342.52,199.42 L342.89,199.42 L343.25,199.42 L343.62,199.43 L343.99,199.43 L344.35,199.43 L344.72,199.43 L345.08,199.43 L345.45,199.43 L345.81,199.43 L346.18,199.43 L346.55,199.44 L346.91,199.44 L347.28,199.44 L347.64,199.44 L348.01,199.44 L348.37,199.44 L348.74,199.44 L349.1,199.45 L349.47,199.45 L349.84,199.45 L350.2,199.45 L350.57,199.45 L350.93,199.46 L351.3,199.46 L351.66,199.46 L352.03,199.46 L352.39,199.46 L352.76,199.47 L353.13,199.47 L353.49,199.47 L353.86,199.48 L354.22,199.48 L354.59,199.48 L354.95,199.48 L355.32,199.49 L355.69,199.49 L356.05,199.5 L356.42,199.5 L356.78,199.5 L357.15,199.51 L357.51,199.51 L357.88,199.52 L358.24,199.52 L358.61,199.52 L358.98,199.53 L359.34,199.53 L359.71,199.54 L360.07,199.55 L360.44,199.55 L360.8,199.56 L361.17,199.56 L361.54,199.57 L361.9,199.58 L362.27,199.58 L362.63,199.59 L363,199.6 L363.36,199.61 L363.73,199.61 L364.09,199.62 L364.46,199.63 L364.83,199.64 L365.19,199.65 L365.56,199.66 L365.92,199.67 L366.29,199.68 L366.65,199.69 L367.02,199.7 L367.38,199.71 L367.75,199.73 L368.12,199.74 L368.48,199.75 L368.85,199.77 L369.21,199.78 L369.58,199.8 L369.94,199.81 L370.31,199.83 L370.68,199.84 L371.04,199.86 L371.41,199.88 L371.77,199.9 L372.14,199.92 L372.5,199.94 L372.87,199.96 L373.23,199.98 L373.6,200 L373.97,200.03 L374.33,200.05 L374.7,200.08 L375.06,200.1 L375.43,200.13 L375.79,200.16 L376.16,200.19 L376.53,200.22 L376.89,200.25 L377.26,200.29 L377.62,200.32 L377.99,200.36 L378.35,200.39 L378.72,200.43 L379.08,200.47 L379.45,200.52 L379.82,200.56 L380.18,200.6 L380.55,200.65 L380.91,200.7 L381.28,200.75 L381.64,200.8 L382.01,200.86 L382.37,200.92 L382.74,200.98 L383.11,201.04 L383.47,201.1 L383.84,201.17 L384.2,201.24 L384.57,201.31 L384.93,201.38 L385.3,201.46 L385.67,201.54 L386.03,201.63 L386.4,201.71 L386.76,201.8 L387.13,201.9 L387.49,201.99 L387.86,202.1 L388.22,202.2 L388.59,202.31 L388.96,202.42 L389.32,202.54 L389.69,202.67 L390.05,202.79 L390.42,202.92 L390.78,203.06 L391.15,203.2 L391.52,203.35 L391.88,203.51 L392.25,203.67 L392.61,203.83 L392.98,204.01 L393.34,204.18 L393.71,204.37 L394.07,204.56 L394.44,204.76 L394.81,204.97 L395.17,205.19 L395.54,205.41 L395.9,205.64 L396.27,205.88 L396.63,206.13 L397,206.39 L397.36,206.66 L397.73,206.94 L398.1,207.22 L398.46,207.52 L398.83,207.83 L399.19,208.15 L399.56,208.49 L399.92,208.83 L400.29,209.19 L400.66,209.55 L401.02,209.93 L401.39,210.33 L401.75,210.74 L402.12,211.16 L402.48,211.59 L402.85,212.04 L403.21,212.5 L403.58,212.98 L403.95,213.47 L404.31,213.98 L404.68,214.5 L405.04,215.04 L405.41,215.59 L405.77,216.16 L406.14,216.74 L406.51,217.33 L406.87,217.95 L407.24,218.57 L407.6,219.22 L407.97,219.87 L408.33,220.54 L408.7,221.22 L409.06,221.92 L409.43,222.63 L409.8,223.35 L410.16,224.08 L410.53,224.82 L410.89,225.57 L411.26,226.33 L411.62,227.1 L411.99,227.87 L412.35,228.65 L412.72,229.44 L413.09,230.23 L413.45,231.02 L413.82,231.81 L414.18,232.61 L414.55,233.4 L414.91,234.19 L415.28,234.98 L415.65,235.77 L416.01,236.55 L416.38,237.32 L416.74,238.09 L417.11,238.86 L417.47,239.61 L417.84,240.35 L418.2,241.09 L418.57,241.82 L418.94,242.53 L419.3,243.24 L419.67,243.93 L420.03,244.61 L420.4,245.28 L420.76,245.94 L421.13,246.59 L421.49,247.22 L421.86,247.84 L422.23,248.45 L422.59,249.05 L422.96,249.64 L423.32,250.22 L423.69,250.78 L424.05,251.33 L424.42,251.88 L424.79,252.41 L425.15,252.93 L425.52,253.44 L425.88,253.95 L426.25,254.44 L426.61,254.93 L426.98,255.41 L427.34,255.88 L427.71,256.34 L428.08,256.8 L428.44,257.25 L428.81,257.7 L429.17,258.14 L429.54,258.57 L429.9,259.01 L430.27,259.43 L430.64,259.86 L431,260.28 L431.37,260.71 L431.73,261.13 L432.1,261.55 L432.46,261.96 L432.83,262.38 L433.19,262.8 L433.56,263.23 L433.93,263.65 L434.29,264.07 L434.66,264.5 L435.02,264.93 L435.39,265.37 L435.75,265.81 L436.12,266.25 L436.48,266.71 L436.85,267.16 L437.22,267.62 L437.58,268.09 L437.95,268.57 L438.31,269.05 L438.68,269.55 L439.04,270.05 L439.41,270.56 L439.78,271.08 L440.14,271.61 L440.51,272.15 L440.87,272.7 L441.24,273.26 L441.6,273.84 L441.97,274.42 L442.33,275.02 L442.7,275.62 L443.07,276.24 L443.43,276.88 L443.8,277.52 L444.16,278.18 L444.53,278.84 L444.89,279.52 L445.26,280.21 L445.63,280.92 L445.99,281.63 L446.36,282.35 L446.72,283.09 L447.09,283.83 L447.45,284.58 L447.82,285.34 L448.18,286.11 L448.55,286.88 L448.92,287.66 L449.28,288.45 L449.65,289.24 L450.01,290.03 L450.38,290.82 L450.74,291.62 L451.11,292.41 L451.47,293.2 L451.84,293.99 L452.21,294.78 L452.57,295.56 L452.94,296.34 L453.3,297.1 L453.67,297.87 L454.03,298.62 L454.4,299.36 L454.77,300.1 L455.13,300.82 L455.5,301.53 L455.86,302.23 L456.23,302.91 L456.59,303.59 L456.96,304.25 L457.32,304.89 L457.69,305.52 L458.06,306.14 L458.42,306.74 L458.79,307.32 L459.15,307.89 L459.52,308.45 L459.88,308.99 L460.25,309.51 L460.62,310.02 L460.98,310.52 L461.35,311 L461.71,311.46 L462.08,311.91 L462.44,312.35 L462.81,312.78 L463.17,313.19 L463.54,313.58 L463.91,313.97 L464.27,314.34 L464.64,314.7 L465,315.04 L465.37,315.38 L465.73,315.7 L466.1,316.01 L466.46,316.31 L466.83,316.6 L467.2,316.88 L467.56,317.15 L467.93,317.41 L468.29,317.67 L468.66,317.91 L469.02,318.14 L469.39,318.37 L469.76,318.58 L470.12,318.79 L470.49,319 L470.85,319.19 L471.22,319.38 L471.58,319.56 L471.95,319.73 L472.31,319.9 L472.68,320.06 L473.05,320.21 L473.41,320.36 L473.78,320.51 L474.14,320.65 L474.51,320.78 L474.87,320.91 L475.24,321.03 L475.61,321.15 L475.97,321.27 L476.34,321.38 L476.7,321.48 L477.07,321.58 L477.43,321.68 L477.8,321.78 L478.16,321.87 L478.53,321.96 L478.9,322.04 L479.26,322.12 L479.63,322.2 L479.99,322.28 L480.36,322.35 L480.72,322.42 L481.09,322.48 L481.45,322.55 L481.82,322.61 L482.19,322.67 L482.55,322.73 L482.92,322.78 L483.28,322.84 L483.65,322.89 L484.01,322.94 L484.38,322.99 L484.75,323.03 L485.11,323.08 L485.48,323.12 L485.84,323.16 L486.21,323.2 L486.57,323.24 L486.94,323.27 L487.3,323.31 L487.67,323.34 L488.04,323.37 L488.4,323.4 L488.77,323.43 L489.13,323.46 L489.5,323.49 L489.86,323.52 L490.23,323.54 L490.6,323.57 L490.96,323.59 L491.33,323.62 L491.69,323.64 L492.06,323.66 L492.42,323.68 L492.79,323.7 L493.15,323.72 L493.52,323.74 L493.89,323.75 L494.25,323.77 L494.62,323.79 L494.98,323.8 L495.35,323.82 L495.71,323.83 L496.08,323.85 L496.44,323.86 L496.81,323.87 L497.18,323.88 L497.54,323.9 L497.91,323.91 L498.27,323.92 L498.64,323.93 L499,323.94 L499.37,323.95 L499.74,323.96 L500.1,323.97 L500.47,323.98 L500.83,323.98 L501.2,323.99 L501.56,324 L501.93,324.01 L502.29,324.02 L502.66,324.02 L503.03,324.03 L503.39,324.04 L503.76,324.04 L504.12,324.05 L504.49,324.05 L504.85,324.06 L505.22,324.06 L505.59,324.07 L505.95,324.07 L506.32,324.08 L506.68,324.08 L507.05,324.09 L507.41,324.09 L507.78,324.1 L508.14,324.1 L508.51,324.1 L508.88,324.11 L509.24,324.11 L509.61,324.11 L509.97,324.12 L510.34,324.12 L510.7,324.12 L511.07,324.13 L511.43,324.13 L511.8,324.13 L512.17,324.13 L512.53,324.14 L512.9,324.14 L513.26,324.14 L513.63,324.14 L513.99,324.15 L514.36,324.15 L514.73,324.15 L515.09,324.15 L515.46,324.15 L515.82,324.16 L516.19,324.16 L516.55,324.16 L516.92,324.16 L517.28,324.16 L517.65,324.16 L518.02,324.16 L518.38,324.17 L518.75,324.17 L519.11,324.17 L519.48,324.17 L519.84,324.17 L520.21,324.17 L520.58,324.17 L520.94,324.17 L521.31,324.17 L521.67,324.18 L522.04,324.18 L522.4,324.18 L522.77,324.18 L523.13,324.18 L523.5,324.18" fill="none" stroke="#7fb0e8" stroke-width="1.9" stroke-linejoin="round"/>
<path d="M304.5,261.8 L304.87,261.8 L305.23,261.8 L305.6,261.8 L305.96,261.8 L306.33,261.8 L306.69,261.8 L307.06,261.8 L307.42,261.8 L307.79,261.8 L308.16,261.8 L308.52,261.8 L308.89,261.8 L309.25,261.8 L309.62,261.8 L309.98,261.8 L310.35,261.8 L310.72,261.8 L311.08,261.8 L311.45,261.8 L311.81,261.8 L312.18,261.8 L312.54,261.8 L312.91,261.8 L313.27,261.8 L313.64,261.8 L314.01,261.8 L314.37,261.8 L314.74,261.8 L315.1,261.8 L315.47,261.8 L315.83,261.8 L316.2,261.8 L316.57,261.8 L316.93,261.8 L317.3,261.8 L317.66,261.8 L318.03,261.8 L318.39,261.8 L318.76,261.8 L319.12,261.8 L319.49,261.8 L319.86,261.8 L320.22,261.8 L320.59,261.8 L320.95,261.8 L321.32,261.8 L321.68,261.8 L322.05,261.8 L322.41,261.8 L322.78,261.8 L323.15,261.8 L323.51,261.8 L323.88,261.8 L324.24,261.8 L324.61,261.8 L324.97,261.8 L325.34,261.8 L325.71,261.8 L326.07,261.8 L326.44,261.8 L326.8,261.8 L327.17,261.8 L327.53,261.8 L327.9,261.8 L328.26,261.8 L328.63,261.8 L329,261.8 L329.36,261.8 L329.73,261.8 L330.09,261.8 L330.46,261.8 L330.82,261.8 L331.19,261.8 L331.56,261.8 L331.92,261.8 L332.29,261.8 L332.65,261.8 L333.02,261.8 L333.38,261.8 L333.75,261.8 L334.11,261.8 L334.48,261.8 L334.85,261.8 L335.21,261.8 L335.58,261.8 L335.94,261.8 L336.31,261.8 L336.67,261.8 L337.04,261.8 L337.4,261.8 L337.77,261.8 L338.14,261.8 L338.5,261.8 L338.87,261.8 L339.23,261.8 L339.6,261.8 L339.96,261.8 L340.33,261.8 L340.7,261.8 L341.06,261.8 L341.43,261.8 L341.79,261.8 L342.16,261.8 L342.52,261.8 L342.89,261.8 L343.25,261.8 L343.62,261.8 L343.99,261.8 L344.35,261.8 L344.72,261.8 L345.08,261.8 L345.45,261.8 L345.81,261.8 L346.18,261.8 L346.55,261.8 L346.91,261.8 L347.28,261.8 L347.64,261.8 L348.01,261.8 L348.37,261.8 L348.74,261.8 L349.1,261.8 L349.47,261.8 L349.84,261.8 L350.2,261.8 L350.57,261.8 L350.93,261.8 L351.3,261.8 L351.66,261.8 L352.03,261.8 L352.39,261.8 L352.76,261.8 L353.13,261.8 L353.49,261.8 L353.86,261.8 L354.22,261.8 L354.59,261.8 L354.95,261.8 L355.32,261.8 L355.69,261.8 L356.05,261.8 L356.42,261.8 L356.78,261.8 L357.15,261.8 L357.51,261.8 L357.88,261.8 L358.24,261.8 L358.61,261.8 L358.98,261.8 L359.34,261.8 L359.71,261.8 L360.07,261.8 L360.44,261.8 L360.8,261.8 L361.17,261.8 L361.54,261.8 L361.9,261.8 L362.27,261.8 L362.63,261.8 L363,261.8 L363.36,261.8 L363.73,261.8 L364.09,261.8 L364.46,261.8 L364.83,261.8 L365.19,261.8 L365.56,261.8 L365.92,261.81 L366.29,261.81 L366.65,261.81 L367.02,261.81 L367.38,261.81 L367.75,261.81 L368.12,261.81 L368.48,261.81 L368.85,261.81 L369.21,261.81 L369.58,261.81 L369.94,261.81 L370.31,261.81 L370.68,261.81 L371.04,261.81 L371.41,261.81 L371.77,261.81 L372.14,261.81 L372.5,261.81 L372.87,261.81 L373.23,261.81 L373.6,261.81 L373.97,261.81 L374.33,261.81 L374.7,261.81 L375.06,261.81 L375.43,261.81 L375.79,261.81 L376.16,261.81 L376.53,261.82 L376.89,261.82 L377.26,261.82 L377.62,261.82 L377.99,261.82 L378.35,261.82 L378.72,261.82 L379.08,261.82 L379.45,261.82 L379.82,261.82 L380.18,261.82 L380.55,261.82 L380.91,261.82 L381.28,261.83 L381.64,261.83 L382.01,261.83 L382.37,261.83 L382.74,261.83 L383.11,261.83 L383.47,261.83 L383.84,261.83 L384.2,261.83 L384.57,261.84 L384.93,261.84 L385.3,261.84 L385.67,261.84 L386.03,261.84 L386.4,261.84 L386.76,261.85 L387.13,261.85 L387.49,261.85 L387.86,261.85 L388.22,261.85 L388.59,261.85 L388.96,261.86 L389.32,261.86 L389.69,261.86 L390.05,261.86 L390.42,261.87 L390.78,261.87 L391.15,261.87 L391.52,261.87 L391.88,261.88 L392.25,261.88 L392.61,261.88 L392.98,261.89 L393.34,261.89 L393.71,261.89 L394.07,261.9 L394.44,261.9 L394.81,261.91 L395.17,261.91 L395.54,261.91 L395.9,261.92 L396.27,261.92 L396.63,261.93 L397,261.93 L397.36,261.94 L397.73,261.94 L398.1,261.95 L398.46,261.96 L398.83,261.96 L399.19,261.97 L399.56,261.97 L399.92,261.98 L400.29,261.99 L400.66,262 L401.02,262 L401.39,262.01 L401.75,262.02 L402.12,262.03 L402.48,262.04 L402.85,262.05 L403.21,262.06 L403.58,262.07 L403.95,262.08 L404.31,262.09 L404.68,262.1 L405.04,262.11 L405.41,262.12 L405.77,262.13 L406.14,262.15 L406.51,262.16 L406.87,262.18 L407.24,262.19 L407.6,262.21 L407.97,262.22 L408.33,262.24 L408.7,262.25 L409.06,262.27 L409.43,262.29 L409.8,262.31 L410.16,262.33 L410.53,262.35 L410.89,262.37 L411.26,262.4 L411.62,262.42 L411.99,262.44 L412.35,262.47 L412.72,262.49 L413.09,262.52 L413.45,262.55 L413.82,262.58 L414.18,262.61 L414.55,262.64 L414.91,262.67 L415.28,262.71 L415.65,262.74 L416.01,262.78 L416.38,262.82 L416.74,262.86 L417.11,262.9 L417.47,262.94 L417.84,262.99 L418.2,263.04 L418.57,263.08 L418.94,263.13 L419.3,263.19 L419.67,263.24 L420.03,263.3 L420.4,263.36 L420.76,263.42 L421.13,263.48 L421.49,263.55 L421.86,263.61 L422.23,263.69 L422.59,263.76 L422.96,263.84 L423.32,263.92 L423.69,264 L424.05,264.08 L424.42,264.17 L424.79,264.27 L425.15,264.36 L425.52,264.46 L425.88,264.57 L426.25,264.67 L426.61,264.79 L426.98,264.9 L427.34,265.02 L427.71,265.15 L428.08,265.28 L428.44,265.42 L428.81,265.56 L429.17,265.7 L429.54,265.86 L429.9,266.01 L430.27,266.18 L430.64,266.35 L431,266.52 L431.37,266.71 L431.73,266.9 L432.1,267.1 L432.46,267.3 L432.83,267.51 L433.19,267.73 L433.56,267.96 L433.93,268.2 L434.29,268.45 L434.66,268.7 L435.02,268.97 L435.39,269.24 L435.75,269.52 L436.12,269.82 L436.48,270.12 L436.85,270.44 L437.22,270.77 L437.58,271.11 L437.95,271.46 L438.31,271.82 L438.68,272.2 L439.04,272.58 L439.41,272.99 L439.78,273.4 L440.14,273.83 L440.51,274.27 L440.87,274.72 L441.24,275.19 L441.6,275.68 L441.97,276.18 L442.33,276.69 L442.7,277.22 L443.07,277.76 L443.43,278.32 L443.8,278.89 L444.16,279.47 L444.53,280.07 L444.89,280.69 L445.26,281.32 L445.63,281.96 L445.99,282.61 L446.36,283.28 L446.72,283.96 L447.09,284.65 L447.45,285.36 L447.82,286.07 L448.18,286.79 L448.55,287.52 L448.92,288.26 L449.28,289 L449.65,289.76 L450.01,290.51 L450.38,291.27 L450.74,292.03 L451.11,292.8 L451.47,293.56 L451.84,294.32 L452.21,295.08 L452.57,295.84 L452.94,296.59 L453.3,297.34 L453.67,298.08 L454.03,298.82 L454.4,299.55 L454.77,300.26 L455.13,300.97 L455.5,301.67 L455.86,302.35 L456.23,303.03 L456.59,303.69 L456.96,304.34 L457.32,304.98 L457.69,305.6 L458.06,306.21 L458.42,306.8 L458.79,307.38 L459.15,307.94 L459.52,308.49 L459.88,309.03 L460.25,309.55 L460.62,310.06 L460.98,310.55 L461.35,311.02 L461.71,311.49 L462.08,311.94 L462.44,312.37 L462.81,312.79 L463.17,313.2 L463.54,313.6 L463.91,313.98 L464.27,314.35 L464.64,314.71 L465,315.05 L465.37,315.38 L465.73,315.71 L466.1,316.02 L466.46,316.32 L466.83,316.61 L467.2,316.89 L467.56,317.16 L467.93,317.42 L468.29,317.67 L468.66,317.91 L469.02,318.14 L469.39,318.37 L469.76,318.59 L470.12,318.8 L470.49,319 L470.85,319.19 L471.22,319.38 L471.58,319.56 L471.95,319.73 L472.31,319.9 L472.68,320.06 L473.05,320.22 L473.41,320.36 L473.78,320.51 L474.14,320.65 L474.51,320.78 L474.87,320.91 L475.24,321.03 L475.61,321.15 L475.97,321.27 L476.34,321.38 L476.7,321.48 L477.07,321.58 L477.43,321.68 L477.8,321.78 L478.16,321.87 L478.53,321.96 L478.9,322.04 L479.26,322.12 L479.63,322.2 L479.99,322.28 L480.36,322.35 L480.72,322.42 L481.09,322.48 L481.45,322.55 L481.82,322.61 L482.19,322.67 L482.55,322.73 L482.92,322.78 L483.28,322.84 L483.65,322.89 L484.01,322.94 L484.38,322.99 L484.75,323.03 L485.11,323.08 L485.48,323.12 L485.84,323.16 L486.21,323.2 L486.57,323.24 L486.94,323.27 L487.3,323.31 L487.67,323.34 L488.04,323.37 L488.4,323.4 L488.77,323.43 L489.13,323.46 L489.5,323.49 L489.86,323.52 L490.23,323.54 L490.6,323.57 L490.96,323.59 L491.33,323.62 L491.69,323.64 L492.06,323.66 L492.42,323.68 L492.79,323.7 L493.15,323.72 L493.52,323.74 L493.89,323.75 L494.25,323.77 L494.62,323.79 L494.98,323.8 L495.35,323.82 L495.71,323.83 L496.08,323.85 L496.44,323.86 L496.81,323.87 L497.18,323.88 L497.54,323.9 L497.91,323.91 L498.27,323.92 L498.64,323.93 L499,323.94 L499.37,323.95 L499.74,323.96 L500.1,323.97 L500.47,323.98 L500.83,323.98 L501.2,323.99 L501.56,324 L501.93,324.01 L502.29,324.02 L502.66,324.02 L503.03,324.03 L503.39,324.04 L503.76,324.04 L504.12,324.05 L504.49,324.05 L504.85,324.06 L505.22,324.06 L505.59,324.07 L505.95,324.07 L506.32,324.08 L506.68,324.08 L507.05,324.09 L507.41,324.09 L507.78,324.1 L508.14,324.1 L508.51,324.1 L508.88,324.11 L509.24,324.11 L509.61,324.11 L509.97,324.12 L510.34,324.12 L510.7,324.12 L511.07,324.13 L511.43,324.13 L511.8,324.13 L512.17,324.13 L512.53,324.14 L512.9,324.14 L513.26,324.14 L513.63,324.14 L513.99,324.15 L514.36,324.15 L514.73,324.15 L515.09,324.15 L515.46,324.15 L515.82,324.16 L516.19,324.16 L516.55,324.16 L516.92,324.16 L517.28,324.16 L517.65,324.16 L518.02,324.16 L518.38,324.17 L518.75,324.17 L519.11,324.17 L519.48,324.17 L519.84,324.17 L520.21,324.17 L520.58,324.17 L520.94,324.17 L521.31,324.17 L521.67,324.18 L522.04,324.18 L522.4,324.18 L522.77,324.18 L523.13,324.18 L523.5,324.18" fill="none" stroke="#9ddcfc" stroke-width="1.9" stroke-linejoin="round"/>
</g>
<text x="418.3" y="194.9" text-anchor="middle" class="tt">(d)</text>
<text transform="translate(413.6,356.1) scale(0.92,1)" text-anchor="middle" class="lb">log(<tspan font-style="italic">ω</tspan>)</text>
<text transform="translate(269.9,262.7) rotate(-90) scale(0.95,1)" text-anchor="middle" class="lb">arg(<tspan font-style="italic">G</tspan>)</text>
<rect x="316.5" y="239.5" width="93.3" height="76.4" fill="#fff" stroke="#3c3c3c" stroke-width="1"/>
<path d="M320.6,249.1 H368.4" stroke="#00005f" stroke-width="1.9" fill="none"/>
<text transform="translate(371.6,255.1) scale(0.875,1)" class="lg"><tspan font-style="italic">σ</tspan><tspan dx="5.4" dy="1.5">=</tspan><tspan dy="-1.5">-0.5</tspan></text>
<path d="M320.6,263.5 H368.4" stroke="#2b3d9e" stroke-width="1.9" fill="none"/>
<text transform="translate(371.6,269.5) scale(0.875,1)" class="lg"><tspan font-style="italic">σ</tspan><tspan dx="5.4" dy="1.5">=</tspan><tspan dy="-1.5">-0.2</tspan></text>
<path d="M320.6,278.0 H368.4" stroke="#3f62b8" stroke-width="1.9" fill="none"/>
<text transform="translate(371.6,284) scale(0.875,1)" class="lg"><tspan font-style="italic">σ</tspan><tspan dx="5.4" dy="1.5">=</tspan><tspan dy="-1.5">0.0</tspan></text>
<path d="M320.6,292.3 H368.4" stroke="#7fb0e8" stroke-width="1.9" fill="none"/>
<text transform="translate(371.6,298.3) scale(0.875,1)" class="lg"><tspan font-style="italic">σ</tspan><tspan dx="5.4" dy="1.5">=</tspan><tspan dy="-1.5">0.2</tspan></text>
<path d="M320.6,306.9 H368.4" stroke="#9ddcfc" stroke-width="1.9" fill="none"/>
<text transform="translate(371.6,312.9) scale(0.875,1)" class="lg"><tspan font-style="italic">σ</tspan><tspan dx="5.4" dy="1.5">=</tspan><tspan dy="-1.5">0.5</tspan></text>
</svg>
</body></html>
